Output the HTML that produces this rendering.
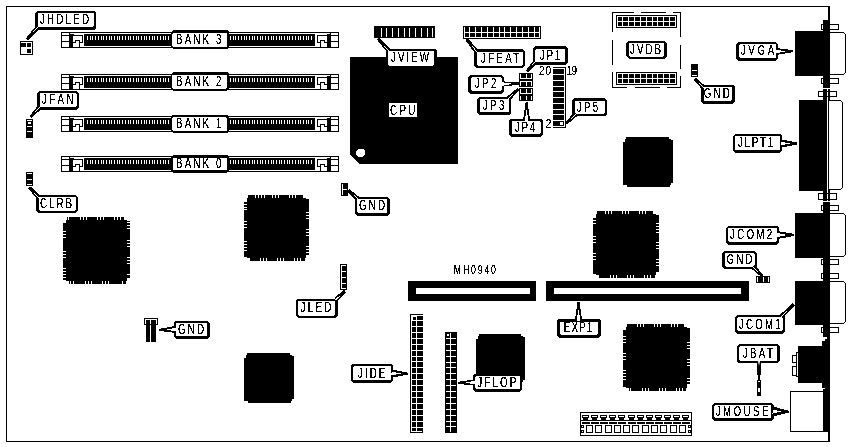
<!DOCTYPE html>
<html><head><meta charset="utf-8"><style>
html,body{margin:0;padding:0;background:#fff;width:849px;height:447px;overflow:hidden}
svg{display:block;will-change:transform}
text{font-family:"Liberation Sans",sans-serif}
</style></head><body>
<svg width="849" height="447" viewBox="0 0 849 447" shape-rendering="crispEdges">
<defs><filter id="crisp" filterUnits="userSpaceOnUse" x="-200" y="-50" width="400" height="100"><feComponentTransfer><feFuncA type="discrete" tableValues="0 0 1 1 1"/></feComponentTransfer></filter></defs>
<rect x="0" y="0" width="849" height="447" fill="#fff"/>
<rect x="6" y="6" width="823" height="1" fill="#000"/>
<rect x="6" y="441" width="823" height="1" fill="#000"/>
<rect x="6" y="6" width="1" height="436" fill="#000"/>
<rect x="828" y="6" width="1" height="436" fill="#000"/>
<rect x="61" y="32" width="278" height="1" fill="#000"/>
<rect x="61" y="47" width="278" height="1" fill="#000"/>
<rect x="61" y="32" width="1" height="16" fill="#000"/>
<rect x="338" y="32" width="1" height="16" fill="#000"/>
<rect x="62" y="35" width="8" height="1" fill="#000"/>
<rect x="62" y="41" width="8" height="1" fill="#000"/>
<rect x="69" y="32" width="1" height="16" fill="#000"/>
<rect x="70" y="34" width="3" height="14" fill="#000"/>
<rect x="73" y="34" width="1" height="2" fill="#000"/>
<rect x="73" y="35" width="10" height="1" fill="#000"/>
<rect x="82" y="35" width="1" height="8" fill="#000"/>
<rect x="79" y="42" width="4" height="1" fill="#000"/>
<rect x="79" y="40" width="1" height="7" fill="#000"/>
<rect x="75" y="40" width="5" height="1" fill="#000"/>
<rect x="75" y="40" width="1" height="3" fill="#000"/>
<rect x="73" y="42" width="3" height="1" fill="#000"/>
<rect x="84" y="34" width="231" height="12" fill="#000"/>
<rect x="87" y="36" width="1" height="4" fill="#fff"/>
<rect x="90" y="36" width="1" height="4" fill="#fff"/>
<rect x="92" y="36" width="1" height="4" fill="#fff"/>
<rect x="95" y="36" width="1" height="4" fill="#fff"/>
<rect x="98" y="36" width="1" height="4" fill="#fff"/>
<rect x="101" y="36" width="1" height="4" fill="#fff"/>
<rect x="103" y="36" width="1" height="4" fill="#fff"/>
<rect x="106" y="36" width="1" height="4" fill="#fff"/>
<rect x="109" y="36" width="1" height="4" fill="#fff"/>
<rect x="111" y="36" width="1" height="4" fill="#fff"/>
<rect x="114" y="36" width="1" height="4" fill="#fff"/>
<rect x="117" y="36" width="1" height="4" fill="#fff"/>
<rect x="119" y="36" width="1" height="4" fill="#fff"/>
<rect x="122" y="36" width="1" height="4" fill="#fff"/>
<rect x="125" y="36" width="1" height="4" fill="#fff"/>
<rect x="128" y="36" width="1" height="4" fill="#fff"/>
<rect x="130" y="36" width="1" height="4" fill="#fff"/>
<rect x="133" y="36" width="1" height="4" fill="#fff"/>
<rect x="136" y="36" width="1" height="4" fill="#fff"/>
<rect x="138" y="36" width="1" height="4" fill="#fff"/>
<rect x="141" y="36" width="1" height="4" fill="#fff"/>
<rect x="144" y="36" width="1" height="4" fill="#fff"/>
<rect x="146" y="36" width="1" height="4" fill="#fff"/>
<rect x="149" y="36" width="1" height="4" fill="#fff"/>
<rect x="152" y="36" width="1" height="4" fill="#fff"/>
<rect x="154" y="36" width="1" height="4" fill="#fff"/>
<rect x="157" y="36" width="1" height="4" fill="#fff"/>
<rect x="160" y="36" width="1" height="4" fill="#fff"/>
<rect x="163" y="36" width="1" height="4" fill="#fff"/>
<rect x="165" y="36" width="1" height="4" fill="#fff"/>
<rect x="168" y="36" width="1" height="4" fill="#fff"/>
<rect x="171" y="36" width="1" height="4" fill="#fff"/>
<rect x="173" y="36" width="1" height="4" fill="#fff"/>
<rect x="176" y="36" width="1" height="4" fill="#fff"/>
<rect x="179" y="36" width="1" height="4" fill="#fff"/>
<rect x="181" y="36" width="1" height="4" fill="#fff"/>
<rect x="184" y="36" width="1" height="4" fill="#fff"/>
<rect x="187" y="36" width="1" height="4" fill="#fff"/>
<rect x="190" y="36" width="1" height="4" fill="#fff"/>
<rect x="192" y="36" width="1" height="4" fill="#fff"/>
<rect x="195" y="36" width="1" height="4" fill="#fff"/>
<rect x="198" y="36" width="1" height="4" fill="#fff"/>
<rect x="200" y="36" width="1" height="4" fill="#fff"/>
<rect x="203" y="36" width="1" height="4" fill="#fff"/>
<rect x="206" y="36" width="1" height="4" fill="#fff"/>
<rect x="208" y="36" width="1" height="4" fill="#fff"/>
<rect x="211" y="36" width="1" height="4" fill="#fff"/>
<rect x="214" y="36" width="1" height="4" fill="#fff"/>
<rect x="217" y="36" width="1" height="4" fill="#fff"/>
<rect x="219" y="36" width="1" height="4" fill="#fff"/>
<rect x="222" y="36" width="1" height="4" fill="#fff"/>
<rect x="225" y="36" width="1" height="4" fill="#fff"/>
<rect x="227" y="36" width="1" height="4" fill="#fff"/>
<rect x="230" y="36" width="1" height="4" fill="#fff"/>
<rect x="233" y="36" width="1" height="4" fill="#fff"/>
<rect x="235" y="36" width="1" height="4" fill="#fff"/>
<rect x="238" y="36" width="1" height="4" fill="#fff"/>
<rect x="241" y="36" width="1" height="4" fill="#fff"/>
<rect x="244" y="36" width="1" height="4" fill="#fff"/>
<rect x="246" y="36" width="1" height="4" fill="#fff"/>
<rect x="249" y="36" width="1" height="4" fill="#fff"/>
<rect x="252" y="36" width="1" height="4" fill="#fff"/>
<rect x="254" y="36" width="1" height="4" fill="#fff"/>
<rect x="257" y="36" width="1" height="4" fill="#fff"/>
<rect x="260" y="36" width="1" height="4" fill="#fff"/>
<rect x="262" y="36" width="1" height="4" fill="#fff"/>
<rect x="265" y="36" width="1" height="4" fill="#fff"/>
<rect x="268" y="36" width="1" height="4" fill="#fff"/>
<rect x="271" y="36" width="1" height="4" fill="#fff"/>
<rect x="273" y="36" width="1" height="4" fill="#fff"/>
<rect x="276" y="36" width="1" height="4" fill="#fff"/>
<rect x="279" y="36" width="1" height="4" fill="#fff"/>
<rect x="281" y="36" width="1" height="4" fill="#fff"/>
<rect x="284" y="36" width="1" height="4" fill="#fff"/>
<rect x="287" y="36" width="1" height="4" fill="#fff"/>
<rect x="289" y="36" width="1" height="4" fill="#fff"/>
<rect x="292" y="36" width="1" height="4" fill="#fff"/>
<rect x="295" y="36" width="1" height="4" fill="#fff"/>
<rect x="298" y="36" width="1" height="4" fill="#fff"/>
<rect x="300" y="36" width="1" height="4" fill="#fff"/>
<rect x="303" y="36" width="1" height="4" fill="#fff"/>
<rect x="306" y="36" width="1" height="4" fill="#fff"/>
<rect x="308" y="36" width="1" height="4" fill="#fff"/>
<rect x="311" y="36" width="1" height="4" fill="#fff"/>
<rect x="330" y="35" width="8" height="1" fill="#000"/>
<rect x="330" y="41" width="8" height="1" fill="#000"/>
<rect x="330" y="32" width="1" height="16" fill="#000"/>
<rect x="327" y="34" width="3" height="14" fill="#000"/>
<rect x="317" y="35" width="10" height="1" fill="#000"/>
<rect x="317" y="35" width="1" height="8" fill="#000"/>
<rect x="317" y="42" width="4" height="1" fill="#000"/>
<rect x="320" y="40" width="1" height="7" fill="#000"/>
<rect x="320" y="40" width="5" height="1" fill="#000"/>
<rect x="324" y="40" width="1" height="3" fill="#000"/>
<rect x="324" y="42" width="3" height="1" fill="#000"/>
<polygon points="173.00,30.00 227.00,30.00 229.00,32.00 229.00,47.00 227.00,49.00 173.00,49.00 171.00,47.00 171.00,32.00" fill="#000" shape-rendering="crispEdges"/>
<polygon points="173.20,32.90 225.90,32.90 226.90,33.90 226.90,46.20 225.90,47.20 173.20,47.20 172.20,46.20 172.20,33.90" fill="#fff" shape-rendering="crispEdges"/>
<text transform="translate(199.81,44) scale(0.7,1)" x="0" y="0" font-size="14" text-anchor="middle" letter-spacing="3.040" fill="#000" filter="url(#crisp)" >BANK 3</text>
<rect x="61" y="74" width="278" height="1" fill="#000"/>
<rect x="61" y="89" width="278" height="1" fill="#000"/>
<rect x="61" y="74" width="1" height="16" fill="#000"/>
<rect x="338" y="74" width="1" height="16" fill="#000"/>
<rect x="62" y="77" width="8" height="1" fill="#000"/>
<rect x="62" y="83" width="8" height="1" fill="#000"/>
<rect x="69" y="74" width="1" height="16" fill="#000"/>
<rect x="70" y="76" width="3" height="14" fill="#000"/>
<rect x="73" y="76" width="1" height="2" fill="#000"/>
<rect x="73" y="77" width="10" height="1" fill="#000"/>
<rect x="82" y="77" width="1" height="8" fill="#000"/>
<rect x="79" y="84" width="4" height="1" fill="#000"/>
<rect x="79" y="82" width="1" height="7" fill="#000"/>
<rect x="75" y="82" width="5" height="1" fill="#000"/>
<rect x="75" y="82" width="1" height="3" fill="#000"/>
<rect x="73" y="84" width="3" height="1" fill="#000"/>
<rect x="84" y="76" width="231" height="12" fill="#000"/>
<rect x="87" y="78" width="1" height="4" fill="#fff"/>
<rect x="90" y="78" width="1" height="4" fill="#fff"/>
<rect x="92" y="78" width="1" height="4" fill="#fff"/>
<rect x="95" y="78" width="1" height="4" fill="#fff"/>
<rect x="98" y="78" width="1" height="4" fill="#fff"/>
<rect x="101" y="78" width="1" height="4" fill="#fff"/>
<rect x="103" y="78" width="1" height="4" fill="#fff"/>
<rect x="106" y="78" width="1" height="4" fill="#fff"/>
<rect x="109" y="78" width="1" height="4" fill="#fff"/>
<rect x="111" y="78" width="1" height="4" fill="#fff"/>
<rect x="114" y="78" width="1" height="4" fill="#fff"/>
<rect x="117" y="78" width="1" height="4" fill="#fff"/>
<rect x="119" y="78" width="1" height="4" fill="#fff"/>
<rect x="122" y="78" width="1" height="4" fill="#fff"/>
<rect x="125" y="78" width="1" height="4" fill="#fff"/>
<rect x="128" y="78" width="1" height="4" fill="#fff"/>
<rect x="130" y="78" width="1" height="4" fill="#fff"/>
<rect x="133" y="78" width="1" height="4" fill="#fff"/>
<rect x="136" y="78" width="1" height="4" fill="#fff"/>
<rect x="138" y="78" width="1" height="4" fill="#fff"/>
<rect x="141" y="78" width="1" height="4" fill="#fff"/>
<rect x="144" y="78" width="1" height="4" fill="#fff"/>
<rect x="146" y="78" width="1" height="4" fill="#fff"/>
<rect x="149" y="78" width="1" height="4" fill="#fff"/>
<rect x="152" y="78" width="1" height="4" fill="#fff"/>
<rect x="154" y="78" width="1" height="4" fill="#fff"/>
<rect x="157" y="78" width="1" height="4" fill="#fff"/>
<rect x="160" y="78" width="1" height="4" fill="#fff"/>
<rect x="163" y="78" width="1" height="4" fill="#fff"/>
<rect x="165" y="78" width="1" height="4" fill="#fff"/>
<rect x="168" y="78" width="1" height="4" fill="#fff"/>
<rect x="171" y="78" width="1" height="4" fill="#fff"/>
<rect x="173" y="78" width="1" height="4" fill="#fff"/>
<rect x="176" y="78" width="1" height="4" fill="#fff"/>
<rect x="179" y="78" width="1" height="4" fill="#fff"/>
<rect x="181" y="78" width="1" height="4" fill="#fff"/>
<rect x="184" y="78" width="1" height="4" fill="#fff"/>
<rect x="187" y="78" width="1" height="4" fill="#fff"/>
<rect x="190" y="78" width="1" height="4" fill="#fff"/>
<rect x="192" y="78" width="1" height="4" fill="#fff"/>
<rect x="195" y="78" width="1" height="4" fill="#fff"/>
<rect x="198" y="78" width="1" height="4" fill="#fff"/>
<rect x="200" y="78" width="1" height="4" fill="#fff"/>
<rect x="203" y="78" width="1" height="4" fill="#fff"/>
<rect x="206" y="78" width="1" height="4" fill="#fff"/>
<rect x="208" y="78" width="1" height="4" fill="#fff"/>
<rect x="211" y="78" width="1" height="4" fill="#fff"/>
<rect x="214" y="78" width="1" height="4" fill="#fff"/>
<rect x="217" y="78" width="1" height="4" fill="#fff"/>
<rect x="219" y="78" width="1" height="4" fill="#fff"/>
<rect x="222" y="78" width="1" height="4" fill="#fff"/>
<rect x="225" y="78" width="1" height="4" fill="#fff"/>
<rect x="227" y="78" width="1" height="4" fill="#fff"/>
<rect x="230" y="78" width="1" height="4" fill="#fff"/>
<rect x="233" y="78" width="1" height="4" fill="#fff"/>
<rect x="235" y="78" width="1" height="4" fill="#fff"/>
<rect x="238" y="78" width="1" height="4" fill="#fff"/>
<rect x="241" y="78" width="1" height="4" fill="#fff"/>
<rect x="244" y="78" width="1" height="4" fill="#fff"/>
<rect x="246" y="78" width="1" height="4" fill="#fff"/>
<rect x="249" y="78" width="1" height="4" fill="#fff"/>
<rect x="252" y="78" width="1" height="4" fill="#fff"/>
<rect x="254" y="78" width="1" height="4" fill="#fff"/>
<rect x="257" y="78" width="1" height="4" fill="#fff"/>
<rect x="260" y="78" width="1" height="4" fill="#fff"/>
<rect x="262" y="78" width="1" height="4" fill="#fff"/>
<rect x="265" y="78" width="1" height="4" fill="#fff"/>
<rect x="268" y="78" width="1" height="4" fill="#fff"/>
<rect x="271" y="78" width="1" height="4" fill="#fff"/>
<rect x="273" y="78" width="1" height="4" fill="#fff"/>
<rect x="276" y="78" width="1" height="4" fill="#fff"/>
<rect x="279" y="78" width="1" height="4" fill="#fff"/>
<rect x="281" y="78" width="1" height="4" fill="#fff"/>
<rect x="284" y="78" width="1" height="4" fill="#fff"/>
<rect x="287" y="78" width="1" height="4" fill="#fff"/>
<rect x="289" y="78" width="1" height="4" fill="#fff"/>
<rect x="292" y="78" width="1" height="4" fill="#fff"/>
<rect x="295" y="78" width="1" height="4" fill="#fff"/>
<rect x="298" y="78" width="1" height="4" fill="#fff"/>
<rect x="300" y="78" width="1" height="4" fill="#fff"/>
<rect x="303" y="78" width="1" height="4" fill="#fff"/>
<rect x="306" y="78" width="1" height="4" fill="#fff"/>
<rect x="308" y="78" width="1" height="4" fill="#fff"/>
<rect x="311" y="78" width="1" height="4" fill="#fff"/>
<rect x="330" y="77" width="8" height="1" fill="#000"/>
<rect x="330" y="83" width="8" height="1" fill="#000"/>
<rect x="330" y="74" width="1" height="16" fill="#000"/>
<rect x="327" y="76" width="3" height="14" fill="#000"/>
<rect x="317" y="77" width="10" height="1" fill="#000"/>
<rect x="317" y="77" width="1" height="8" fill="#000"/>
<rect x="317" y="84" width="4" height="1" fill="#000"/>
<rect x="320" y="82" width="1" height="7" fill="#000"/>
<rect x="320" y="82" width="5" height="1" fill="#000"/>
<rect x="324" y="82" width="1" height="3" fill="#000"/>
<rect x="324" y="84" width="3" height="1" fill="#000"/>
<polygon points="173.00,72.00 227.00,72.00 229.00,74.00 229.00,88.50 227.00,90.50 173.00,90.50 171.00,88.50 171.00,74.00" fill="#000" shape-rendering="crispEdges"/>
<polygon points="173.20,74.80 225.90,74.80 226.90,75.80 226.90,87.70 225.90,88.70 173.20,88.70 172.20,87.70 172.20,75.80" fill="#fff" shape-rendering="crispEdges"/>
<text transform="translate(199.81,86) scale(0.7,1)" x="0" y="0" font-size="14" text-anchor="middle" letter-spacing="3.040" fill="#000" filter="url(#crisp)" >BANK 2</text>
<rect x="61" y="116" width="278" height="1" fill="#000"/>
<rect x="61" y="131" width="278" height="1" fill="#000"/>
<rect x="61" y="116" width="1" height="16" fill="#000"/>
<rect x="338" y="116" width="1" height="16" fill="#000"/>
<rect x="62" y="119" width="8" height="1" fill="#000"/>
<rect x="62" y="125" width="8" height="1" fill="#000"/>
<rect x="69" y="116" width="1" height="16" fill="#000"/>
<rect x="70" y="118" width="3" height="14" fill="#000"/>
<rect x="73" y="118" width="1" height="2" fill="#000"/>
<rect x="73" y="119" width="10" height="1" fill="#000"/>
<rect x="82" y="119" width="1" height="8" fill="#000"/>
<rect x="79" y="126" width="4" height="1" fill="#000"/>
<rect x="79" y="124" width="1" height="7" fill="#000"/>
<rect x="75" y="124" width="5" height="1" fill="#000"/>
<rect x="75" y="124" width="1" height="3" fill="#000"/>
<rect x="73" y="126" width="3" height="1" fill="#000"/>
<rect x="84" y="118" width="231" height="12" fill="#000"/>
<rect x="87" y="120" width="1" height="4" fill="#fff"/>
<rect x="90" y="120" width="1" height="4" fill="#fff"/>
<rect x="92" y="120" width="1" height="4" fill="#fff"/>
<rect x="95" y="120" width="1" height="4" fill="#fff"/>
<rect x="98" y="120" width="1" height="4" fill="#fff"/>
<rect x="101" y="120" width="1" height="4" fill="#fff"/>
<rect x="103" y="120" width="1" height="4" fill="#fff"/>
<rect x="106" y="120" width="1" height="4" fill="#fff"/>
<rect x="109" y="120" width="1" height="4" fill="#fff"/>
<rect x="111" y="120" width="1" height="4" fill="#fff"/>
<rect x="114" y="120" width="1" height="4" fill="#fff"/>
<rect x="117" y="120" width="1" height="4" fill="#fff"/>
<rect x="119" y="120" width="1" height="4" fill="#fff"/>
<rect x="122" y="120" width="1" height="4" fill="#fff"/>
<rect x="125" y="120" width="1" height="4" fill="#fff"/>
<rect x="128" y="120" width="1" height="4" fill="#fff"/>
<rect x="130" y="120" width="1" height="4" fill="#fff"/>
<rect x="133" y="120" width="1" height="4" fill="#fff"/>
<rect x="136" y="120" width="1" height="4" fill="#fff"/>
<rect x="138" y="120" width="1" height="4" fill="#fff"/>
<rect x="141" y="120" width="1" height="4" fill="#fff"/>
<rect x="144" y="120" width="1" height="4" fill="#fff"/>
<rect x="146" y="120" width="1" height="4" fill="#fff"/>
<rect x="149" y="120" width="1" height="4" fill="#fff"/>
<rect x="152" y="120" width="1" height="4" fill="#fff"/>
<rect x="154" y="120" width="1" height="4" fill="#fff"/>
<rect x="157" y="120" width="1" height="4" fill="#fff"/>
<rect x="160" y="120" width="1" height="4" fill="#fff"/>
<rect x="163" y="120" width="1" height="4" fill="#fff"/>
<rect x="165" y="120" width="1" height="4" fill="#fff"/>
<rect x="168" y="120" width="1" height="4" fill="#fff"/>
<rect x="171" y="120" width="1" height="4" fill="#fff"/>
<rect x="173" y="120" width="1" height="4" fill="#fff"/>
<rect x="176" y="120" width="1" height="4" fill="#fff"/>
<rect x="179" y="120" width="1" height="4" fill="#fff"/>
<rect x="181" y="120" width="1" height="4" fill="#fff"/>
<rect x="184" y="120" width="1" height="4" fill="#fff"/>
<rect x="187" y="120" width="1" height="4" fill="#fff"/>
<rect x="190" y="120" width="1" height="4" fill="#fff"/>
<rect x="192" y="120" width="1" height="4" fill="#fff"/>
<rect x="195" y="120" width="1" height="4" fill="#fff"/>
<rect x="198" y="120" width="1" height="4" fill="#fff"/>
<rect x="200" y="120" width="1" height="4" fill="#fff"/>
<rect x="203" y="120" width="1" height="4" fill="#fff"/>
<rect x="206" y="120" width="1" height="4" fill="#fff"/>
<rect x="208" y="120" width="1" height="4" fill="#fff"/>
<rect x="211" y="120" width="1" height="4" fill="#fff"/>
<rect x="214" y="120" width="1" height="4" fill="#fff"/>
<rect x="217" y="120" width="1" height="4" fill="#fff"/>
<rect x="219" y="120" width="1" height="4" fill="#fff"/>
<rect x="222" y="120" width="1" height="4" fill="#fff"/>
<rect x="225" y="120" width="1" height="4" fill="#fff"/>
<rect x="227" y="120" width="1" height="4" fill="#fff"/>
<rect x="230" y="120" width="1" height="4" fill="#fff"/>
<rect x="233" y="120" width="1" height="4" fill="#fff"/>
<rect x="235" y="120" width="1" height="4" fill="#fff"/>
<rect x="238" y="120" width="1" height="4" fill="#fff"/>
<rect x="241" y="120" width="1" height="4" fill="#fff"/>
<rect x="244" y="120" width="1" height="4" fill="#fff"/>
<rect x="246" y="120" width="1" height="4" fill="#fff"/>
<rect x="249" y="120" width="1" height="4" fill="#fff"/>
<rect x="252" y="120" width="1" height="4" fill="#fff"/>
<rect x="254" y="120" width="1" height="4" fill="#fff"/>
<rect x="257" y="120" width="1" height="4" fill="#fff"/>
<rect x="260" y="120" width="1" height="4" fill="#fff"/>
<rect x="262" y="120" width="1" height="4" fill="#fff"/>
<rect x="265" y="120" width="1" height="4" fill="#fff"/>
<rect x="268" y="120" width="1" height="4" fill="#fff"/>
<rect x="271" y="120" width="1" height="4" fill="#fff"/>
<rect x="273" y="120" width="1" height="4" fill="#fff"/>
<rect x="276" y="120" width="1" height="4" fill="#fff"/>
<rect x="279" y="120" width="1" height="4" fill="#fff"/>
<rect x="281" y="120" width="1" height="4" fill="#fff"/>
<rect x="284" y="120" width="1" height="4" fill="#fff"/>
<rect x="287" y="120" width="1" height="4" fill="#fff"/>
<rect x="289" y="120" width="1" height="4" fill="#fff"/>
<rect x="292" y="120" width="1" height="4" fill="#fff"/>
<rect x="295" y="120" width="1" height="4" fill="#fff"/>
<rect x="298" y="120" width="1" height="4" fill="#fff"/>
<rect x="300" y="120" width="1" height="4" fill="#fff"/>
<rect x="303" y="120" width="1" height="4" fill="#fff"/>
<rect x="306" y="120" width="1" height="4" fill="#fff"/>
<rect x="308" y="120" width="1" height="4" fill="#fff"/>
<rect x="311" y="120" width="1" height="4" fill="#fff"/>
<rect x="330" y="119" width="8" height="1" fill="#000"/>
<rect x="330" y="125" width="8" height="1" fill="#000"/>
<rect x="330" y="116" width="1" height="16" fill="#000"/>
<rect x="327" y="118" width="3" height="14" fill="#000"/>
<rect x="317" y="119" width="10" height="1" fill="#000"/>
<rect x="317" y="119" width="1" height="8" fill="#000"/>
<rect x="317" y="126" width="4" height="1" fill="#000"/>
<rect x="320" y="124" width="1" height="7" fill="#000"/>
<rect x="320" y="124" width="5" height="1" fill="#000"/>
<rect x="324" y="124" width="1" height="3" fill="#000"/>
<rect x="324" y="126" width="3" height="1" fill="#000"/>
<polygon points="173.00,114.50 227.00,114.50 229.00,116.50 229.00,131.00 227.00,133.00 173.00,133.00 171.00,131.00 171.00,116.50" fill="#000" shape-rendering="crispEdges"/>
<polygon points="173.20,117.30 225.90,117.30 226.90,118.30 226.90,130.20 225.90,131.20 173.20,131.20 172.20,130.20 172.20,118.30" fill="#fff" shape-rendering="crispEdges"/>
<text transform="translate(199.81,128) scale(0.7,1)" x="0" y="0" font-size="14" text-anchor="middle" letter-spacing="3.040" fill="#000" filter="url(#crisp)" >BANK 1</text>
<rect x="61" y="156" width="278" height="1" fill="#000"/>
<rect x="61" y="171" width="278" height="1" fill="#000"/>
<rect x="61" y="156" width="1" height="16" fill="#000"/>
<rect x="338" y="156" width="1" height="16" fill="#000"/>
<rect x="62" y="159" width="8" height="1" fill="#000"/>
<rect x="62" y="165" width="8" height="1" fill="#000"/>
<rect x="69" y="156" width="1" height="16" fill="#000"/>
<rect x="70" y="158" width="3" height="14" fill="#000"/>
<rect x="73" y="158" width="1" height="2" fill="#000"/>
<rect x="73" y="159" width="10" height="1" fill="#000"/>
<rect x="82" y="159" width="1" height="8" fill="#000"/>
<rect x="79" y="166" width="4" height="1" fill="#000"/>
<rect x="79" y="164" width="1" height="7" fill="#000"/>
<rect x="75" y="164" width="5" height="1" fill="#000"/>
<rect x="75" y="164" width="1" height="3" fill="#000"/>
<rect x="73" y="166" width="3" height="1" fill="#000"/>
<rect x="84" y="158" width="231" height="12" fill="#000"/>
<rect x="87" y="160" width="1" height="4" fill="#fff"/>
<rect x="90" y="160" width="1" height="4" fill="#fff"/>
<rect x="92" y="160" width="1" height="4" fill="#fff"/>
<rect x="95" y="160" width="1" height="4" fill="#fff"/>
<rect x="98" y="160" width="1" height="4" fill="#fff"/>
<rect x="101" y="160" width="1" height="4" fill="#fff"/>
<rect x="103" y="160" width="1" height="4" fill="#fff"/>
<rect x="106" y="160" width="1" height="4" fill="#fff"/>
<rect x="109" y="160" width="1" height="4" fill="#fff"/>
<rect x="111" y="160" width="1" height="4" fill="#fff"/>
<rect x="114" y="160" width="1" height="4" fill="#fff"/>
<rect x="117" y="160" width="1" height="4" fill="#fff"/>
<rect x="119" y="160" width="1" height="4" fill="#fff"/>
<rect x="122" y="160" width="1" height="4" fill="#fff"/>
<rect x="125" y="160" width="1" height="4" fill="#fff"/>
<rect x="128" y="160" width="1" height="4" fill="#fff"/>
<rect x="130" y="160" width="1" height="4" fill="#fff"/>
<rect x="133" y="160" width="1" height="4" fill="#fff"/>
<rect x="136" y="160" width="1" height="4" fill="#fff"/>
<rect x="138" y="160" width="1" height="4" fill="#fff"/>
<rect x="141" y="160" width="1" height="4" fill="#fff"/>
<rect x="144" y="160" width="1" height="4" fill="#fff"/>
<rect x="146" y="160" width="1" height="4" fill="#fff"/>
<rect x="149" y="160" width="1" height="4" fill="#fff"/>
<rect x="152" y="160" width="1" height="4" fill="#fff"/>
<rect x="154" y="160" width="1" height="4" fill="#fff"/>
<rect x="157" y="160" width="1" height="4" fill="#fff"/>
<rect x="160" y="160" width="1" height="4" fill="#fff"/>
<rect x="163" y="160" width="1" height="4" fill="#fff"/>
<rect x="165" y="160" width="1" height="4" fill="#fff"/>
<rect x="168" y="160" width="1" height="4" fill="#fff"/>
<rect x="171" y="160" width="1" height="4" fill="#fff"/>
<rect x="173" y="160" width="1" height="4" fill="#fff"/>
<rect x="176" y="160" width="1" height="4" fill="#fff"/>
<rect x="179" y="160" width="1" height="4" fill="#fff"/>
<rect x="181" y="160" width="1" height="4" fill="#fff"/>
<rect x="184" y="160" width="1" height="4" fill="#fff"/>
<rect x="187" y="160" width="1" height="4" fill="#fff"/>
<rect x="190" y="160" width="1" height="4" fill="#fff"/>
<rect x="192" y="160" width="1" height="4" fill="#fff"/>
<rect x="195" y="160" width="1" height="4" fill="#fff"/>
<rect x="198" y="160" width="1" height="4" fill="#fff"/>
<rect x="200" y="160" width="1" height="4" fill="#fff"/>
<rect x="203" y="160" width="1" height="4" fill="#fff"/>
<rect x="206" y="160" width="1" height="4" fill="#fff"/>
<rect x="208" y="160" width="1" height="4" fill="#fff"/>
<rect x="211" y="160" width="1" height="4" fill="#fff"/>
<rect x="214" y="160" width="1" height="4" fill="#fff"/>
<rect x="217" y="160" width="1" height="4" fill="#fff"/>
<rect x="219" y="160" width="1" height="4" fill="#fff"/>
<rect x="222" y="160" width="1" height="4" fill="#fff"/>
<rect x="225" y="160" width="1" height="4" fill="#fff"/>
<rect x="227" y="160" width="1" height="4" fill="#fff"/>
<rect x="230" y="160" width="1" height="4" fill="#fff"/>
<rect x="233" y="160" width="1" height="4" fill="#fff"/>
<rect x="235" y="160" width="1" height="4" fill="#fff"/>
<rect x="238" y="160" width="1" height="4" fill="#fff"/>
<rect x="241" y="160" width="1" height="4" fill="#fff"/>
<rect x="244" y="160" width="1" height="4" fill="#fff"/>
<rect x="246" y="160" width="1" height="4" fill="#fff"/>
<rect x="249" y="160" width="1" height="4" fill="#fff"/>
<rect x="252" y="160" width="1" height="4" fill="#fff"/>
<rect x="254" y="160" width="1" height="4" fill="#fff"/>
<rect x="257" y="160" width="1" height="4" fill="#fff"/>
<rect x="260" y="160" width="1" height="4" fill="#fff"/>
<rect x="262" y="160" width="1" height="4" fill="#fff"/>
<rect x="265" y="160" width="1" height="4" fill="#fff"/>
<rect x="268" y="160" width="1" height="4" fill="#fff"/>
<rect x="271" y="160" width="1" height="4" fill="#fff"/>
<rect x="273" y="160" width="1" height="4" fill="#fff"/>
<rect x="276" y="160" width="1" height="4" fill="#fff"/>
<rect x="279" y="160" width="1" height="4" fill="#fff"/>
<rect x="281" y="160" width="1" height="4" fill="#fff"/>
<rect x="284" y="160" width="1" height="4" fill="#fff"/>
<rect x="287" y="160" width="1" height="4" fill="#fff"/>
<rect x="289" y="160" width="1" height="4" fill="#fff"/>
<rect x="292" y="160" width="1" height="4" fill="#fff"/>
<rect x="295" y="160" width="1" height="4" fill="#fff"/>
<rect x="298" y="160" width="1" height="4" fill="#fff"/>
<rect x="300" y="160" width="1" height="4" fill="#fff"/>
<rect x="303" y="160" width="1" height="4" fill="#fff"/>
<rect x="306" y="160" width="1" height="4" fill="#fff"/>
<rect x="308" y="160" width="1" height="4" fill="#fff"/>
<rect x="311" y="160" width="1" height="4" fill="#fff"/>
<rect x="330" y="159" width="8" height="1" fill="#000"/>
<rect x="330" y="165" width="8" height="1" fill="#000"/>
<rect x="330" y="156" width="1" height="16" fill="#000"/>
<rect x="327" y="158" width="3" height="14" fill="#000"/>
<rect x="317" y="159" width="10" height="1" fill="#000"/>
<rect x="317" y="159" width="1" height="8" fill="#000"/>
<rect x="317" y="166" width="4" height="1" fill="#000"/>
<rect x="320" y="164" width="1" height="7" fill="#000"/>
<rect x="320" y="164" width="5" height="1" fill="#000"/>
<rect x="324" y="164" width="1" height="3" fill="#000"/>
<rect x="324" y="166" width="3" height="1" fill="#000"/>
<polygon points="173.00,155.00 227.00,155.00 229.00,157.00 229.00,170.50 227.00,172.50 173.00,172.50 171.00,170.50 171.00,157.00" fill="#000" shape-rendering="crispEdges"/>
<polygon points="173.50,157.60 226.00,157.60 227.00,158.60 227.00,169.30 226.00,170.30 173.50,170.30 172.50,169.30 172.50,158.60" fill="#fff" shape-rendering="crispEdges"/>
<text transform="translate(199.81,168) scale(0.7,1)" x="0" y="0" font-size="14" text-anchor="middle" letter-spacing="3.040" fill="#000" filter="url(#crisp)" >BANK 0</text>
<rect x="66" y="220" width="61" height="61" fill="#000"/>
<rect x="67" y="217" width="57" height="3" fill="#000"/>
<rect x="69" y="281" width="57" height="3" fill="#000"/>
<rect x="63" y="223" width="3" height="57" fill="#000"/>
<rect x="127" y="221" width="3" height="57" fill="#000"/>
<rect x="68" y="217" width="1" height="3" fill="#fff"/>
<rect x="80" y="217" width="1" height="3" fill="#fff"/>
<rect x="83" y="217" width="1" height="3" fill="#fff"/>
<rect x="86" y="217" width="1" height="3" fill="#fff"/>
<rect x="97" y="217" width="1" height="3" fill="#fff"/>
<rect x="100" y="217" width="1" height="3" fill="#fff"/>
<rect x="103" y="217" width="1" height="3" fill="#fff"/>
<rect x="114" y="217" width="1" height="3" fill="#fff"/>
<rect x="117" y="217" width="1" height="3" fill="#fff"/>
<rect x="120" y="217" width="1" height="3" fill="#fff"/>
<rect x="70" y="281" width="1" height="3" fill="#fff"/>
<rect x="73" y="281" width="1" height="3" fill="#fff"/>
<rect x="85" y="281" width="1" height="3" fill="#fff"/>
<rect x="88" y="281" width="1" height="3" fill="#fff"/>
<rect x="91" y="281" width="1" height="3" fill="#fff"/>
<rect x="102" y="281" width="1" height="3" fill="#fff"/>
<rect x="105" y="281" width="1" height="3" fill="#fff"/>
<rect x="108" y="281" width="1" height="3" fill="#fff"/>
<rect x="122" y="281" width="1" height="3" fill="#fff"/>
<rect x="63" y="231" width="3" height="1" fill="#fff"/>
<rect x="63" y="234" width="3" height="1" fill="#fff"/>
<rect x="63" y="237" width="3" height="1" fill="#fff"/>
<rect x="63" y="251" width="3" height="1" fill="#fff"/>
<rect x="63" y="254" width="3" height="1" fill="#fff"/>
<rect x="63" y="257" width="3" height="1" fill="#fff"/>
<rect x="63" y="268" width="3" height="1" fill="#fff"/>
<rect x="63" y="271" width="3" height="1" fill="#fff"/>
<rect x="63" y="274" width="3" height="1" fill="#fff"/>
<rect x="63" y="277" width="3" height="1" fill="#fff"/>
<rect x="127" y="222" width="3" height="1" fill="#fff"/>
<rect x="127" y="225" width="3" height="1" fill="#fff"/>
<rect x="127" y="228" width="3" height="1" fill="#fff"/>
<rect x="127" y="240" width="3" height="1" fill="#fff"/>
<rect x="127" y="243" width="3" height="1" fill="#fff"/>
<rect x="127" y="246" width="3" height="1" fill="#fff"/>
<rect x="127" y="257" width="3" height="1" fill="#fff"/>
<rect x="127" y="260" width="3" height="1" fill="#fff"/>
<rect x="127" y="263" width="3" height="1" fill="#fff"/>
<rect x="127" y="274" width="3" height="1" fill="#fff"/>
<rect x="247" y="198" width="59" height="60" fill="#000"/>
<rect x="248" y="195" width="55" height="3" fill="#000"/>
<rect x="250" y="258" width="55" height="3" fill="#000"/>
<rect x="244" y="201" width="3" height="56" fill="#000"/>
<rect x="306" y="199" width="3" height="56" fill="#000"/>
<rect x="255" y="195" width="1" height="3" fill="#fff"/>
<rect x="258" y="195" width="1" height="3" fill="#fff"/>
<rect x="261" y="195" width="1" height="3" fill="#fff"/>
<rect x="264" y="195" width="1" height="3" fill="#fff"/>
<rect x="272" y="195" width="1" height="3" fill="#fff"/>
<rect x="275" y="195" width="1" height="3" fill="#fff"/>
<rect x="278" y="195" width="1" height="3" fill="#fff"/>
<rect x="289" y="195" width="1" height="3" fill="#fff"/>
<rect x="292" y="195" width="1" height="3" fill="#fff"/>
<rect x="295" y="195" width="1" height="3" fill="#fff"/>
<rect x="260" y="258" width="1" height="3" fill="#fff"/>
<rect x="263" y="258" width="1" height="3" fill="#fff"/>
<rect x="266" y="258" width="1" height="3" fill="#fff"/>
<rect x="277" y="258" width="1" height="3" fill="#fff"/>
<rect x="280" y="258" width="1" height="3" fill="#fff"/>
<rect x="283" y="258" width="1" height="3" fill="#fff"/>
<rect x="294" y="258" width="1" height="3" fill="#fff"/>
<rect x="297" y="258" width="1" height="3" fill="#fff"/>
<rect x="300" y="258" width="1" height="3" fill="#fff"/>
<rect x="244" y="201" width="3" height="1" fill="#fff"/>
<rect x="244" y="204" width="3" height="1" fill="#fff"/>
<rect x="244" y="207" width="3" height="1" fill="#fff"/>
<rect x="244" y="209" width="3" height="1" fill="#fff"/>
<rect x="244" y="221" width="3" height="1" fill="#fff"/>
<rect x="244" y="224" width="3" height="1" fill="#fff"/>
<rect x="244" y="227" width="3" height="1" fill="#fff"/>
<rect x="244" y="241" width="3" height="1" fill="#fff"/>
<rect x="244" y="244" width="3" height="1" fill="#fff"/>
<rect x="244" y="247" width="3" height="1" fill="#fff"/>
<rect x="244" y="250" width="3" height="1" fill="#fff"/>
<rect x="306" y="212" width="3" height="1" fill="#fff"/>
<rect x="306" y="215" width="3" height="1" fill="#fff"/>
<rect x="306" y="218" width="3" height="1" fill="#fff"/>
<rect x="306" y="229" width="3" height="1" fill="#fff"/>
<rect x="306" y="232" width="3" height="1" fill="#fff"/>
<rect x="306" y="235" width="3" height="1" fill="#fff"/>
<rect x="306" y="246" width="3" height="1" fill="#fff"/>
<rect x="306" y="249" width="3" height="1" fill="#fff"/>
<rect x="306" y="252" width="3" height="1" fill="#fff"/>
<rect x="247" y="353" width="43" height="2" fill="#000"/>
<rect x="246" y="355" width="46" height="1" fill="#000"/>
<rect x="246" y="356" width="48" height="2" fill="#000"/>
<rect x="244" y="358" width="50" height="41" fill="#000"/>
<rect x="244" y="399" width="48" height="2" fill="#000"/>
<rect x="248" y="401" width="43" height="2" fill="#000"/>
<rect x="626" y="137" width="43" height="2" fill="#000"/>
<rect x="625" y="139" width="46" height="1" fill="#000"/>
<rect x="625" y="140" width="48" height="2" fill="#000"/>
<rect x="623" y="142" width="50" height="41" fill="#000"/>
<rect x="623" y="183" width="48" height="2" fill="#000"/>
<rect x="627" y="185" width="43" height="2" fill="#000"/>
<rect x="596" y="214" width="60" height="61" fill="#000"/>
<rect x="597" y="211" width="56" height="3" fill="#000"/>
<rect x="599" y="275" width="56" height="3" fill="#000"/>
<rect x="593" y="217" width="3" height="57" fill="#000"/>
<rect x="656" y="215" width="3" height="57" fill="#000"/>
<rect x="605" y="211" width="1" height="3" fill="#fff"/>
<rect x="608" y="211" width="1" height="3" fill="#fff"/>
<rect x="611" y="211" width="1" height="3" fill="#fff"/>
<rect x="622" y="211" width="1" height="3" fill="#fff"/>
<rect x="625" y="211" width="1" height="3" fill="#fff"/>
<rect x="628" y="211" width="1" height="3" fill="#fff"/>
<rect x="639" y="211" width="1" height="3" fill="#fff"/>
<rect x="642" y="211" width="1" height="3" fill="#fff"/>
<rect x="645" y="211" width="1" height="3" fill="#fff"/>
<rect x="610" y="275" width="1" height="3" fill="#fff"/>
<rect x="613" y="275" width="1" height="3" fill="#fff"/>
<rect x="616" y="275" width="1" height="3" fill="#fff"/>
<rect x="627" y="275" width="1" height="3" fill="#fff"/>
<rect x="630" y="275" width="1" height="3" fill="#fff"/>
<rect x="633" y="275" width="1" height="3" fill="#fff"/>
<rect x="644" y="275" width="1" height="3" fill="#fff"/>
<rect x="647" y="275" width="1" height="3" fill="#fff"/>
<rect x="650" y="275" width="1" height="3" fill="#fff"/>
<rect x="593" y="217" width="3" height="1" fill="#fff"/>
<rect x="593" y="220" width="3" height="1" fill="#fff"/>
<rect x="593" y="223" width="3" height="1" fill="#fff"/>
<rect x="593" y="236" width="3" height="1" fill="#fff"/>
<rect x="593" y="239" width="3" height="1" fill="#fff"/>
<rect x="593" y="242" width="3" height="1" fill="#fff"/>
<rect x="593" y="253" width="3" height="1" fill="#fff"/>
<rect x="593" y="256" width="3" height="1" fill="#fff"/>
<rect x="593" y="259" width="3" height="1" fill="#fff"/>
<rect x="656" y="223" width="3" height="1" fill="#fff"/>
<rect x="656" y="226" width="3" height="1" fill="#fff"/>
<rect x="656" y="229" width="3" height="1" fill="#fff"/>
<rect x="656" y="232" width="3" height="1" fill="#fff"/>
<rect x="656" y="242" width="3" height="1" fill="#fff"/>
<rect x="656" y="245" width="3" height="1" fill="#fff"/>
<rect x="656" y="248" width="3" height="1" fill="#fff"/>
<rect x="656" y="259" width="3" height="1" fill="#fff"/>
<rect x="656" y="262" width="3" height="1" fill="#fff"/>
<rect x="656" y="265" width="3" height="1" fill="#fff"/>
<rect x="626" y="327" width="61" height="61" fill="#000"/>
<rect x="627" y="324" width="57" height="3" fill="#000"/>
<rect x="629" y="388" width="57" height="3" fill="#000"/>
<rect x="623" y="330" width="3" height="57" fill="#000"/>
<rect x="687" y="328" width="3" height="57" fill="#000"/>
<rect x="637" y="324" width="1" height="3" fill="#fff"/>
<rect x="640" y="324" width="1" height="3" fill="#fff"/>
<rect x="643" y="324" width="1" height="3" fill="#fff"/>
<rect x="654" y="324" width="1" height="3" fill="#fff"/>
<rect x="657" y="324" width="1" height="3" fill="#fff"/>
<rect x="660" y="324" width="1" height="3" fill="#fff"/>
<rect x="671" y="324" width="1" height="3" fill="#fff"/>
<rect x="674" y="324" width="1" height="3" fill="#fff"/>
<rect x="677" y="324" width="1" height="3" fill="#fff"/>
<rect x="630" y="388" width="1" height="3" fill="#fff"/>
<rect x="642" y="388" width="1" height="3" fill="#fff"/>
<rect x="645" y="388" width="1" height="3" fill="#fff"/>
<rect x="648" y="388" width="1" height="3" fill="#fff"/>
<rect x="659" y="388" width="1" height="3" fill="#fff"/>
<rect x="662" y="388" width="1" height="3" fill="#fff"/>
<rect x="665" y="388" width="1" height="3" fill="#fff"/>
<rect x="676" y="388" width="1" height="3" fill="#fff"/>
<rect x="679" y="388" width="1" height="3" fill="#fff"/>
<rect x="682" y="388" width="1" height="3" fill="#fff"/>
<rect x="623" y="336" width="3" height="1" fill="#fff"/>
<rect x="623" y="339" width="3" height="1" fill="#fff"/>
<rect x="623" y="342" width="3" height="1" fill="#fff"/>
<rect x="623" y="353" width="3" height="1" fill="#fff"/>
<rect x="623" y="356" width="3" height="1" fill="#fff"/>
<rect x="623" y="359" width="3" height="1" fill="#fff"/>
<rect x="623" y="370" width="3" height="1" fill="#fff"/>
<rect x="623" y="373" width="3" height="1" fill="#fff"/>
<rect x="623" y="376" width="3" height="1" fill="#fff"/>
<rect x="623" y="379" width="3" height="1" fill="#fff"/>
<rect x="687" y="342" width="3" height="1" fill="#fff"/>
<rect x="687" y="345" width="3" height="1" fill="#fff"/>
<rect x="687" y="348" width="3" height="1" fill="#fff"/>
<rect x="687" y="359" width="3" height="1" fill="#fff"/>
<rect x="687" y="362" width="3" height="1" fill="#fff"/>
<rect x="687" y="365" width="3" height="1" fill="#fff"/>
<rect x="687" y="378" width="3" height="1" fill="#fff"/>
<rect x="687" y="381" width="3" height="1" fill="#fff"/>
<rect x="687" y="384" width="3" height="1" fill="#fff"/>
<rect x="479" y="334" width="42" height="2" fill="#000"/>
<rect x="478" y="336" width="45" height="1" fill="#000"/>
<rect x="478" y="337" width="47" height="2" fill="#000"/>
<rect x="476" y="339" width="49" height="41" fill="#000"/>
<rect x="476" y="380" width="47" height="2" fill="#000"/>
<rect x="480" y="382" width="42" height="2" fill="#000"/>
<polygon points="350,57 458,57 458,164 359.5,164 350,154.5" fill="#000" />
<polygon points="358.5,148.5 362.5,148.5 365,151 365,155 362.5,157 358.5,157 356,154.5 356,151" fill="#fff" />
<rect x="389" y="103" width="28" height="14" fill="#fff"/>
<text transform="translate(403.80,115) scale(0.7,1)" x="0" y="0" font-size="14" text-anchor="middle" letter-spacing="3.292" fill="#000" filter="url(#crisp)" >CPU</text>
<rect x="374" y="26" width="61" height="12" fill="#000"/>
<rect x="381" y="28" width="1" height="9" fill="#fff"/>
<rect x="386" y="28" width="1" height="9" fill="#fff"/>
<rect x="392" y="28" width="1" height="9" fill="#fff"/>
<rect x="398" y="28" width="1" height="9" fill="#fff"/>
<rect x="404" y="28" width="1" height="9" fill="#fff"/>
<rect x="409" y="28" width="1" height="9" fill="#fff"/>
<rect x="415" y="28" width="1" height="9" fill="#fff"/>
<rect x="421" y="28" width="1" height="9" fill="#fff"/>
<rect x="427" y="28" width="1" height="9" fill="#fff"/>
<rect x="432" y="28" width="1" height="9" fill="#fff"/>
<polygon points="388.40,49.00 435.00,49.00 437.00,51.00 437.00,64.00 435.00,66.00 388.40,66.00 386.40,64.00 386.40,51.00" fill="#000" shape-rendering="crispEdges"/>
<polygon points="388.80,51.00 433.00,51.00 434.00,52.00 434.00,64.50 433.00,65.50 388.80,65.50 387.80,64.50 387.80,52.00" fill="#fff" shape-rendering="crispEdges"/>
<text transform="translate(411.01,62) scale(0.7,1)" x="0" y="0" font-size="14" text-anchor="middle" letter-spacing="2.877" fill="#000" filter="url(#crisp)" >JVIEW</text>
<polygon points="390.39,49.24 379.13,37.61 376.87,39.59 386.93,52.27" fill="#000" shape-rendering="crispEdges"/>
<polygon points="389.37,50.8 383.73,44.67 383.27,45.07 388.61,51.46" fill="#fff" shape-rendering="crispEdges"/>
<rect x="463" y="26" width="78" height="13" fill="#000"/>
<rect x="464" y="27" width="1" height="11" fill="#fff"/>
<rect x="469" y="27" width="1" height="11" fill="#fff"/>
<rect x="475" y="27" width="1" height="11" fill="#fff"/>
<rect x="481" y="27" width="1" height="11" fill="#fff"/>
<rect x="487" y="27" width="1" height="11" fill="#fff"/>
<rect x="493" y="27" width="1" height="11" fill="#fff"/>
<rect x="499" y="27" width="1" height="11" fill="#fff"/>
<rect x="504" y="27" width="1" height="11" fill="#fff"/>
<rect x="510" y="27" width="1" height="11" fill="#fff"/>
<rect x="516" y="27" width="1" height="11" fill="#fff"/>
<rect x="522" y="27" width="1" height="11" fill="#fff"/>
<rect x="528" y="27" width="1" height="11" fill="#fff"/>
<rect x="534" y="27" width="1" height="11" fill="#fff"/>
<rect x="539" y="27" width="1" height="11" fill="#fff"/>
<rect x="464" y="32" width="76" height="1" fill="#fff"/>
<rect x="464" y="37" width="76" height="1" fill="#fff"/>
<polygon points="476.30,49.00 522.80,49.00 524.80,51.00 524.80,66.00 522.80,68.00 476.30,68.00 474.30,66.00 474.30,51.00" fill="#000" shape-rendering="crispEdges"/>
<polygon points="478.00,51.70 521.80,51.70 522.80,52.70 522.80,64.80 521.80,65.80 478.00,65.80 477.00,64.80 477.00,52.70" fill="#fff" shape-rendering="crispEdges"/>
<text transform="translate(501.17,63) scale(0.7,1)" x="0" y="0" font-size="14" text-anchor="middle" letter-spacing="3.351" fill="#000" filter="url(#crisp)" >JFEAT</text>
<polygon points="478.42,50.36 467.68,38.07 465.32,39.93 474.82,53.21" fill="#000" shape-rendering="crispEdges"/>
<polygon points="477.32,51.87 471.96,45.41 471.49,45.79 476.54,52.49" fill="#fff" shape-rendering="crispEdges"/>
<rect x="519" y="73" width="14" height="28" fill="#000"/>
<rect x="519" y="87" width="14" height="1" fill="#fff"/>
<rect x="520" y="74" width="1" height="5" fill="#fff"/>
<rect x="520" y="81" width="1" height="5" fill="#fff"/>
<rect x="520" y="89" width="1" height="5" fill="#fff"/>
<rect x="520" y="96" width="1" height="4" fill="#fff"/>
<rect x="526" y="74" width="1" height="5" fill="#fff"/>
<rect x="526" y="81" width="1" height="5" fill="#fff"/>
<rect x="526" y="89" width="1" height="5" fill="#fff"/>
<rect x="526" y="96" width="1" height="4" fill="#fff"/>
<rect x="531" y="74" width="1" height="5" fill="#fff"/>
<rect x="531" y="81" width="1" height="5" fill="#fff"/>
<rect x="531" y="89" width="1" height="5" fill="#fff"/>
<rect x="531" y="96" width="1" height="4" fill="#fff"/>
<rect x="520" y="78" width="12" height="1" fill="#fff"/>
<rect x="520" y="81" width="12" height="1" fill="#fff"/>
<rect x="520" y="93" width="12" height="1" fill="#fff"/>
<polygon points="535.20,46.10 565.50,46.10 567.50,48.10 567.50,62.60 565.50,64.60 535.20,64.60 533.20,62.60 533.20,48.10" fill="#000" shape-rendering="crispEdges"/>
<polygon points="536.20,49.10 564.30,49.10 565.30,50.10 565.30,61.00 564.30,62.00 536.20,62.00 535.20,61.00 535.20,50.10" fill="#fff" shape-rendering="crispEdges"/>
<text transform="translate(550.95,60) scale(0.7,1)" x="0" y="0" font-size="14" text-anchor="middle" letter-spacing="2.581" fill="#000" filter="url(#crisp)" >JP1</text>
<polygon points="533.88,59.75 525.85,70.53 528.15,72.47 537.4,62.72" fill="#000" shape-rendering="crispEdges"/>
<polygon points="535.58,60.53 531.17,66.08 531.63,66.47 536.35,61.17" fill="#fff" shape-rendering="crispEdges"/>
<polygon points="470.10,75.10 501.90,75.10 503.90,77.10 503.90,91.50 501.90,93.50 470.10,93.50 468.10,91.50 468.10,77.10" fill="#000" shape-rendering="crispEdges"/>
<polygon points="472.10,77.10 500.60,77.10 501.60,78.10 501.60,89.70 500.60,90.70 472.10,90.70 471.10,89.70 471.10,78.10" fill="#fff" shape-rendering="crispEdges"/>
<text transform="translate(486.85,88) scale(0.7,1)" x="0" y="0" font-size="14" text-anchor="middle" letter-spacing="3.438" fill="#000" filter="url(#crisp)" >JP2</text>
<polygon points="502.59,86.73 519.03,84.5 518.97,82.5 502.41,81.33" fill="#000" shape-rendering="crispEdges"/>
<polygon points="502.06,85.95 512.02,83.72 501.94,82.15" fill="#fff" shape-rendering="crispEdges"/>
<polygon points="479.30,97.10 509.30,97.10 511.30,99.10 511.30,112.80 509.30,114.80 479.30,114.80 477.30,112.80 477.30,99.10" fill="#000" shape-rendering="crispEdges"/>
<polygon points="480.80,99.10 508.30,99.10 509.30,100.10 509.30,111.30 508.30,112.30 480.80,112.30 479.80,111.30 479.80,100.10" fill="#fff" shape-rendering="crispEdges"/>
<text transform="translate(494.75,110) scale(0.7,1)" x="0" y="0" font-size="14" text-anchor="middle" letter-spacing="3.438" fill="#000" filter="url(#crisp)" >JP3</text>
<polygon points="509.86,100.36 519.53,90.09 517.47,87.91 506.69,97.02" fill="#000" shape-rendering="crispEdges"/>
<polygon points="508.25,99.39 513.48,94.17 513.07,93.73 507.57,98.67" fill="#fff" shape-rendering="crispEdges"/>
<polygon points="511.20,118.70 541.10,118.70 543.10,120.70 543.10,134.50 541.10,136.50 511.20,136.50 509.20,134.50 509.20,120.70" fill="#000" shape-rendering="crispEdges"/>
<polygon points="512.70,121.00 539.80,121.00 540.80,122.00 540.80,133.20 539.80,134.20 512.70,134.20 511.70,133.20 511.70,122.00" fill="#fff" shape-rendering="crispEdges"/>
<text transform="translate(525.98,132) scale(0.7,1)" x="0" y="0" font-size="14" text-anchor="middle" letter-spacing="2.509" fill="#000" filter="url(#crisp)" >JP4</text>
<polygon points="530.1,120.0 527.6,102.0 525.6,102.0 523.1,120.0" fill="#000" shape-rendering="crispEdges"/>
<polygon points="528.5,120.5 526.6,109.65 524.7,120.5" fill="#fff" shape-rendering="crispEdges"/>
<rect x="553" y="67" width="13" height="61" fill="#000"/>
<rect x="564" y="68" width="1" height="59" fill="#fff"/>
<rect x="553" y="68" width="12" height="1" fill="#fff"/>
<rect x="553" y="126" width="12" height="1" fill="#fff"/>
<rect x="553" y="74" width="11" height="1" fill="#fff"/>
<rect x="553" y="80" width="11" height="1" fill="#fff"/>
<rect x="553" y="86" width="11" height="1" fill="#fff"/>
<rect x="553" y="91" width="11" height="1" fill="#fff"/>
<rect x="553" y="97" width="11" height="1" fill="#fff"/>
<rect x="553" y="103" width="11" height="1" fill="#fff"/>
<rect x="553" y="109" width="11" height="1" fill="#fff"/>
<rect x="553" y="114" width="11" height="1" fill="#fff"/>
<rect x="553" y="120" width="11" height="1" fill="#fff"/>
<rect x="560" y="122" width="3" height="3" fill="#fff"/>
<text transform="translate(545.54,75) scale(0.8,1)" x="0" y="0" font-size="12.5" text-anchor="middle" letter-spacing="1.221" fill="#000" filter="url(#crisp)" >20</text>
<text transform="translate(571.44,75) scale(0.8,1)" x="0" y="0" font-size="12.5" text-anchor="middle" letter-spacing="-0.779" fill="#000" filter="url(#crisp)" >19</text>
<text transform="translate(548.50,128) scale(0.85,1)" x="0" y="0" font-size="12.5" text-anchor="middle" letter-spacing="0.000" fill="#000" filter="url(#crisp)" >2</text>
<polygon points="574.30,98.10 604.80,98.10 606.80,100.10 606.80,114.40 604.80,116.40 574.30,116.40 572.30,114.40 572.30,100.10" fill="#000" shape-rendering="crispEdges"/>
<polygon points="576.00,100.50 603.60,100.50 604.60,101.50 604.60,113.00 603.60,114.00 576.00,114.00 575.00,113.00 575.00,101.50" fill="#fff" shape-rendering="crispEdges"/>
<text transform="translate(588.70,112) scale(0.7,1)" x="0" y="0" font-size="14" text-anchor="middle" letter-spacing="3.295" fill="#000" filter="url(#crisp)" >JP5</text>
<polygon points="574.15,112.64 564.97,122.41 567.03,124.59 577.31,115.99" fill="#000" shape-rendering="crispEdges"/>
<polygon points="575.75,113.61 570.74,118.61 571.16,119.04 576.43,114.33" fill="#fff" shape-rendering="crispEdges"/>
<rect x="612" y="12" width="22" height="1" fill="#000"/>
<rect x="641" y="12" width="25" height="1" fill="#000"/>
<rect x="673" y="12" width="8" height="1" fill="#000"/>
<rect x="612" y="87" width="15" height="1" fill="#000"/>
<rect x="635" y="87" width="25" height="1" fill="#000"/>
<rect x="667" y="87" width="14" height="1" fill="#000"/>
<rect x="612" y="12" width="1" height="20" fill="#000"/>
<rect x="612" y="40" width="1" height="25" fill="#000"/>
<rect x="612" y="72" width="1" height="16" fill="#000"/>
<rect x="680" y="12" width="1" height="25" fill="#000"/>
<rect x="680" y="45" width="1" height="24" fill="#000"/>
<rect x="680" y="76" width="1" height="12" fill="#000"/>
<rect x="616" y="15" width="61" height="1" fill="#000"/>
<rect x="616" y="27" width="61" height="1" fill="#000"/>
<rect x="616" y="15" width="1" height="13" fill="#000"/>
<rect x="676" y="15" width="1" height="13" fill="#000"/>
<rect x="618" y="17" width="57" height="9" fill="#000"/>
<rect x="618" y="21" width="57" height="1" fill="#fff"/>
<rect x="622" y="17" width="1" height="9" fill="#fff"/>
<rect x="628" y="17" width="1" height="9" fill="#fff"/>
<rect x="634" y="17" width="1" height="9" fill="#fff"/>
<rect x="640" y="17" width="1" height="9" fill="#fff"/>
<rect x="646" y="17" width="1" height="9" fill="#fff"/>
<rect x="652" y="17" width="1" height="9" fill="#fff"/>
<rect x="657" y="17" width="1" height="9" fill="#fff"/>
<rect x="663" y="17" width="1" height="9" fill="#fff"/>
<rect x="669" y="17" width="1" height="9" fill="#fff"/>
<rect x="616" y="72" width="61" height="1" fill="#000"/>
<rect x="616" y="84" width="61" height="1" fill="#000"/>
<rect x="616" y="72" width="1" height="13" fill="#000"/>
<rect x="676" y="72" width="1" height="13" fill="#000"/>
<rect x="618" y="74" width="57" height="9" fill="#000"/>
<rect x="618" y="78" width="57" height="1" fill="#fff"/>
<rect x="622" y="74" width="1" height="9" fill="#fff"/>
<rect x="628" y="74" width="1" height="9" fill="#fff"/>
<rect x="634" y="74" width="1" height="9" fill="#fff"/>
<rect x="640" y="74" width="1" height="9" fill="#fff"/>
<rect x="646" y="74" width="1" height="9" fill="#fff"/>
<rect x="652" y="74" width="1" height="9" fill="#fff"/>
<rect x="657" y="74" width="1" height="9" fill="#fff"/>
<rect x="663" y="74" width="1" height="9" fill="#fff"/>
<rect x="669" y="74" width="1" height="9" fill="#fff"/>
<polygon points="629.00,40.90 664.00,40.90 667.00,43.90 667.00,56.00 664.00,59.00 629.00,59.00 626.00,56.00 626.00,43.90" fill="#000" shape-rendering="crispEdges"/>
<polygon points="629.80,42.90 663.10,42.90 664.10,43.90 664.10,55.70 663.10,56.70 629.80,56.70 628.80,55.70 628.80,43.90" fill="#fff" shape-rendering="crispEdges"/>
<text transform="translate(646.56,54) scale(0.7,1)" x="0" y="0" font-size="14" text-anchor="middle" letter-spacing="2.881" fill="#000" filter="url(#crisp)" >JVDB</text>
<rect x="691" y="64" width="7" height="13" fill="#000"/>
<rect x="692" y="70" width="5" height="1" fill="#fff"/>
<rect x="692" y="75" width="5" height="1" fill="#fff"/>
<polygon points="703.10,84.90 732.90,84.90 734.90,86.90 734.90,101.50 732.90,103.50 703.10,103.50 701.10,101.50 701.10,86.90" fill="#000" shape-rendering="crispEdges"/>
<polygon points="704.50,86.90 731.20,86.90 732.20,87.90 732.20,99.80 731.20,100.80 704.50,100.80 703.50,99.80 703.50,87.90" fill="#fff" shape-rendering="crispEdges"/>
<text transform="translate(717.93,98) scale(0.7,1)" x="0" y="0" font-size="14" text-anchor="middle" letter-spacing="3.088" fill="#000" filter="url(#crisp)" >GND</text>
<polygon points="704.83,85.57 695.75,77.73 693.65,79.87 701.6,88.84" fill="#000" shape-rendering="crispEdges"/>
<polygon points="703.92,87.2 699.2,82.82 698.78,83.25 703.22,87.91" fill="#fff" shape-rendering="crispEdges"/>
<rect x="829" y="6" width="1" height="436" fill="#000"/>
<rect x="823" y="20" width="7" height="68" fill="#000"/>
<rect x="795" y="31" width="35" height="45" fill="#000"/>
<rect x="830" y="32" width="14" height="1" fill="#000"/>
<rect x="830" y="74" width="14" height="1" fill="#000"/>
<rect x="845" y="34" width="1" height="39" fill="#000"/>
<rect x="844" y="33" width="1" height="1" fill="#000"/>
<rect x="844" y="73" width="1" height="1" fill="#000"/>
<rect x="821" y="24" width="18" height="6" fill="#fff"/>
<rect x="821" y="24" width="18" height="1" fill="#000"/>
<rect x="821" y="29" width="18" height="1" fill="#000"/>
<rect x="821" y="24" width="1" height="6" fill="#000"/>
<rect x="838" y="24" width="1" height="6" fill="#000"/>
<rect x="823" y="24" width="7" height="6" fill="#000"/>
<rect x="821" y="78" width="18" height="6" fill="#fff"/>
<rect x="821" y="78" width="18" height="1" fill="#000"/>
<rect x="821" y="83" width="18" height="1" fill="#000"/>
<rect x="821" y="78" width="1" height="6" fill="#000"/>
<rect x="838" y="78" width="1" height="6" fill="#000"/>
<rect x="823" y="78" width="7" height="6" fill="#000"/>
<rect x="823" y="88" width="7" height="1" fill="#fff"/>
<polygon points="738.20,42.00 775.90,42.00 777.90,44.00 777.90,58.80 775.90,60.80 738.20,60.80 736.20,58.80 736.20,44.00" fill="#000" shape-rendering="crispEdges"/>
<polygon points="740.10,44.00 775.30,44.00 776.30,45.00 776.30,57.10 775.30,58.10 740.10,58.10 739.10,57.10 739.10,45.00" fill="#fff" shape-rendering="crispEdges"/>
<text transform="translate(758.90,55) scale(0.7,1)" x="0" y="0" font-size="14" text-anchor="middle" letter-spacing="3.859" fill="#000" filter="url(#crisp)" >JVGA</text>
<polygon points="776.59,55.02 793.03,52.1 792.97,50.1 776.41,48.03" fill="#000" shape-rendering="crispEdges"/>
<polygon points="776.05,53.44 786.02,51.28 775.95,49.64" fill="#fff" shape-rendering="crispEdges"/>
<rect x="829" y="89" width="1" height="112" fill="#fff"/>
<rect x="799" y="100" width="28" height="91" fill="#000"/>
<rect x="823" y="89" width="4" height="12" fill="#000"/>
<rect x="823" y="190" width="4" height="11" fill="#000"/>
<rect x="827" y="89" width="1" height="112" fill="#fff"/>
<rect x="828" y="89" width="2" height="12" fill="#000"/>
<rect x="828" y="189" width="2" height="12" fill="#000"/>
<rect x="829" y="100" width="12" height="1" fill="#000"/>
<rect x="829" y="189" width="12" height="1" fill="#000"/>
<rect x="842" y="102" width="1" height="86" fill="#000"/>
<rect x="841" y="101" width="1" height="1" fill="#000"/>
<rect x="841" y="188" width="1" height="1" fill="#000"/>
<rect x="818" y="91" width="19" height="6" fill="#fff"/>
<rect x="818" y="91" width="19" height="1" fill="#000"/>
<rect x="818" y="96" width="19" height="1" fill="#000"/>
<rect x="818" y="91" width="1" height="6" fill="#000"/>
<rect x="836" y="91" width="1" height="6" fill="#000"/>
<rect x="823" y="91" width="4" height="6" fill="#000"/>
<rect x="828" y="91" width="2" height="6" fill="#000"/>
<rect x="818" y="193" width="19" height="7" fill="#fff"/>
<rect x="818" y="193" width="19" height="1" fill="#000"/>
<rect x="818" y="199" width="19" height="1" fill="#000"/>
<rect x="818" y="193" width="1" height="7" fill="#000"/>
<rect x="836" y="193" width="1" height="7" fill="#000"/>
<rect x="823" y="193" width="4" height="7" fill="#000"/>
<rect x="828" y="193" width="2" height="7" fill="#000"/>
<rect x="823" y="201" width="7" height="1" fill="#fff"/>
<polygon points="735.00,134.00 780.10,134.00 782.10,136.00 782.10,150.70 780.10,152.70 735.00,152.70 733.00,150.70 733.00,136.00" fill="#000" shape-rendering="crispEdges"/>
<polygon points="736.10,135.90 779.00,135.90 780.00,136.90 780.00,149.40 779.00,150.40 736.10,150.40 735.10,149.40 735.10,136.90" fill="#fff" shape-rendering="crispEdges"/>
<text transform="translate(756.42,147) scale(0.7,1)" x="0" y="0" font-size="14" text-anchor="middle" letter-spacing="2.492" fill="#000" filter="url(#crisp)" >JLPT1</text>
<polygon points="781.0,147.7 797.0,144.5 797.0,142.5 781.0,139.3" fill="#000" shape-rendering="crispEdges"/>
<polygon points="780.5,145.4 790.25,143.5 780.5,141.6" fill="#fff" shape-rendering="crispEdges"/>
<rect x="823" y="202" width="7" height="135" fill="#000"/>
<rect x="795" y="213" width="35" height="45" fill="#000"/>
<rect x="830" y="213" width="14" height="1" fill="#000"/>
<rect x="830" y="256" width="14" height="1" fill="#000"/>
<rect x="845" y="215" width="1" height="40" fill="#000"/>
<rect x="844" y="214" width="1" height="1" fill="#000"/>
<rect x="844" y="255" width="1" height="1" fill="#000"/>
<rect x="821" y="205" width="18" height="6" fill="#fff"/>
<rect x="821" y="205" width="18" height="1" fill="#000"/>
<rect x="821" y="210" width="18" height="1" fill="#000"/>
<rect x="821" y="205" width="1" height="6" fill="#000"/>
<rect x="838" y="205" width="1" height="6" fill="#000"/>
<rect x="823" y="205" width="7" height="6" fill="#000"/>
<rect x="821" y="259" width="18" height="6" fill="#fff"/>
<rect x="821" y="259" width="18" height="1" fill="#000"/>
<rect x="821" y="264" width="18" height="1" fill="#000"/>
<rect x="821" y="259" width="1" height="6" fill="#000"/>
<rect x="838" y="259" width="1" height="6" fill="#000"/>
<rect x="823" y="259" width="7" height="6" fill="#000"/>
<polygon points="728.30,226.00 777.00,226.00 779.00,228.00 779.00,242.90 777.00,244.90 728.30,244.90 726.30,242.90 726.30,228.00" fill="#000" shape-rendering="crispEdges"/>
<polygon points="729.30,227.70 775.70,227.70 776.70,228.70 776.70,241.20 775.70,242.20 729.30,242.20 728.30,241.20 728.30,228.70" fill="#fff" shape-rendering="crispEdges"/>
<text transform="translate(752.16,239) scale(0.7,1)" x="0" y="0" font-size="14" text-anchor="middle" letter-spacing="3.174" fill="#000" filter="url(#crisp)" >JCOM2</text>
<polygon points="778.03,238.91 794.41,235.9 794.39,233.9 777.97,231.11" fill="#000" shape-rendering="crispEdges"/>
<polygon points="777.51,236.91 787.47,234.94 777.49,233.11" fill="#fff" shape-rendering="crispEdges"/>
<rect x="795" y="281" width="35" height="44" fill="#000"/>
<rect x="830" y="281" width="14" height="1" fill="#000"/>
<rect x="830" y="323" width="14" height="1" fill="#000"/>
<rect x="845" y="283" width="1" height="39" fill="#000"/>
<rect x="844" y="282" width="1" height="1" fill="#000"/>
<rect x="844" y="322" width="1" height="1" fill="#000"/>
<rect x="821" y="273" width="18" height="6" fill="#fff"/>
<rect x="821" y="273" width="18" height="1" fill="#000"/>
<rect x="821" y="278" width="18" height="1" fill="#000"/>
<rect x="821" y="273" width="1" height="6" fill="#000"/>
<rect x="838" y="273" width="1" height="6" fill="#000"/>
<rect x="823" y="273" width="7" height="6" fill="#000"/>
<rect x="821" y="327" width="18" height="6" fill="#fff"/>
<rect x="821" y="327" width="18" height="1" fill="#000"/>
<rect x="821" y="332" width="18" height="1" fill="#000"/>
<rect x="821" y="327" width="1" height="6" fill="#000"/>
<rect x="838" y="327" width="1" height="6" fill="#000"/>
<rect x="823" y="327" width="7" height="6" fill="#000"/>
<polygon points="737.20,315.00 782.80,315.00 784.80,317.00 784.80,331.80 782.80,333.80 737.20,333.80 735.20,331.80 735.20,317.00" fill="#000" shape-rendering="crispEdges"/>
<polygon points="738.30,317.40 781.80,317.40 782.80,318.40 782.80,329.80 781.80,330.80 738.30,330.80 737.30,329.80 737.30,318.40" fill="#fff" shape-rendering="crispEdges"/>
<text transform="translate(760.85,329) scale(0.7,1)" x="0" y="0" font-size="14" text-anchor="middle" letter-spacing="2.995" fill="#000" filter="url(#crisp)" >JCOM1</text>
<polygon points="782.91,318.34 794.66,305.57 792.54,303.43 779.67,315.07" fill="#000" shape-rendering="crispEdges"/>
<polygon points="781.29,317.41 787.43,311.04 787.01,310.61 780.58,316.7" fill="#fff" shape-rendering="crispEdges"/>
<rect x="827" y="337" width="3" height="2" fill="#000"/>
<rect x="825" y="339" width="5" height="2" fill="#000"/>
<rect x="822" y="341" width="8" height="5" fill="#000"/>
<rect x="798" y="346" width="32" height="37" fill="#000"/>
<rect x="822" y="383" width="8" height="5" fill="#000"/>
<rect x="825" y="388" width="5" height="2" fill="#000"/>
<rect x="796" y="352" width="3" height="25" fill="#fff"/>
<rect x="796" y="352" width="3" height="1" fill="#000"/>
<rect x="796" y="376" width="3" height="1" fill="#000"/>
<rect x="796" y="352" width="1" height="25" fill="#000"/>
<rect x="798" y="352" width="1" height="25" fill="#000"/>
<rect x="792" y="355" width="5" height="8" fill="#fff"/>
<rect x="792" y="355" width="5" height="1" fill="#000"/>
<rect x="792" y="362" width="5" height="1" fill="#000"/>
<rect x="792" y="355" width="1" height="8" fill="#000"/>
<rect x="796" y="355" width="1" height="8" fill="#000"/>
<rect x="792" y="366" width="5" height="10" fill="#fff"/>
<rect x="792" y="366" width="5" height="1" fill="#000"/>
<rect x="792" y="375" width="5" height="1" fill="#000"/>
<rect x="792" y="366" width="1" height="10" fill="#000"/>
<rect x="796" y="366" width="1" height="10" fill="#000"/>
<polygon points="724.20,251.20 754.70,251.20 756.70,253.20 756.70,267.00 754.70,269.00 724.20,269.00 722.20,267.00 722.20,253.20" fill="#000" shape-rendering="crispEdges"/>
<polygon points="725.70,253.10 753.70,253.10 754.70,254.10 754.70,265.70 753.70,266.70 725.70,266.70 724.70,265.70 724.70,254.10" fill="#fff" shape-rendering="crispEdges"/>
<text transform="translate(740.43,264) scale(0.7,1)" x="0" y="0" font-size="14" text-anchor="middle" letter-spacing="2.802" fill="#000" filter="url(#crisp)" >GND</text>
<rect x="756" y="276" width="14" height="7" fill="#000"/>
<rect x="757" y="277" width="1" height="5" fill="#fff"/>
<rect x="763" y="277" width="1" height="5" fill="#fff"/>
<rect x="768" y="277" width="1" height="5" fill="#fff"/>
<polygon points="751.39,268.59 761.57,277.09 763.63,274.91 754.55,265.24" fill="#000" shape-rendering="crispEdges"/>
<polygon points="752.27,266.93 757.5,271.6 757.91,271.16 752.95,266.21" fill="#fff" shape-rendering="crispEdges"/>
<polygon points="739.10,344.00 777.70,344.00 779.70,346.00 779.70,361.20 777.70,363.20 739.10,363.20 737.10,361.20 737.10,346.00" fill="#000" shape-rendering="crispEdges"/>
<polygon points="740.40,346.40 776.40,346.40 777.40,347.40 777.40,360.20 776.40,361.20 740.40,361.20 739.40,360.20 739.40,347.40" fill="#fff" shape-rendering="crispEdges"/>
<text transform="translate(758.96,358) scale(0.7,1)" x="0" y="0" font-size="14" text-anchor="middle" letter-spacing="3.318" fill="#000" filter="url(#crisp)" >JBAT</text>
<polygon points="756.5,362 761.5,362 761,367 757,367" fill="#000" />
<polygon points="757.8,360 760.2,360 759,366" fill="#fff" shape-rendering="geometricPrecision"/>
<rect x="757" y="366" width="4" height="9" fill="#000"/>
<rect x="758" y="375" width="2" height="5" fill="#000"/>
<rect x="757" y="380" width="4" height="16" fill="#000"/>
<rect x="758" y="381" width="2" height="1" fill="#fff"/>
<rect x="758" y="388" width="2" height="4" fill="#fff"/>
<rect x="790" y="391" width="34" height="1" fill="#000"/>
<rect x="790" y="431" width="34" height="1" fill="#000"/>
<rect x="790" y="391" width="1" height="41" fill="#000"/>
<rect x="823" y="391" width="1" height="41" fill="#000"/>
<rect x="823" y="389" width="6" height="43" fill="#000"/>
<rect x="790" y="431" width="39" height="1" fill="#000"/>
<polygon points="714.10,403.10 771.80,403.10 773.80,405.10 773.80,418.80 771.80,420.80 714.10,420.80 712.10,418.80 712.10,405.10" fill="#000" shape-rendering="crispEdges"/>
<polygon points="715.40,404.90 770.20,404.90 771.20,405.90 771.20,417.20 770.20,418.20 715.40,418.20 714.40,417.20 714.40,405.90" fill="#fff" shape-rendering="crispEdges"/>
<text transform="translate(743.34,416) scale(0.7,1)" x="0" y="0" font-size="14" text-anchor="middle" letter-spacing="3.390" fill="#000" filter="url(#crisp)" >JMOUSE</text>
<polygon points="773.0,416.6 788.5,412.6 788.5,410.6 773.0,406.6" fill="#000" shape-rendering="crispEdges"/>
<polygon points="772.5,413.5 781.98,411.6 772.5,409.7" fill="#fff" shape-rendering="crispEdges"/>
<rect x="408" y="281" width="128" height="20" fill="#000"/>
<rect x="416" y="288" width="114" height="6" fill="#fff"/>
<text transform="translate(475.81,274) scale(0.7,1)" x="0" y="0" font-size="12.5" text-anchor="middle" letter-spacing="2.608" fill="#000" filter="url(#crisp)" >MH0940</text>
<rect x="546" y="281" width="203" height="20" fill="#000"/>
<rect x="554" y="288" width="187" height="6" fill="#fff"/>
<polygon points="559.10,318.80 599.00,318.80 601.00,320.80 601.00,335.80 599.00,337.80 559.10,337.80 557.10,335.80 557.10,320.80" fill="#000" shape-rendering="crispEdges"/>
<polygon points="561.10,321.50 597.20,321.50 598.20,322.50 598.20,333.80 597.20,334.80 561.10,334.80 560.10,333.80 560.10,322.50" fill="#fff" shape-rendering="crispEdges"/>
<text transform="translate(578.62,332) scale(0.7,1)" x="0" y="0" font-size="14" text-anchor="middle" letter-spacing="1.638" fill="#000" filter="url(#crisp)" >EXP1</text>
<polygon points="582.0,320.0 579.5,302.0 577.5,302.0 575.0,320.0" fill="#000" shape-rendering="crispEdges"/>
<polygon points="580.4,320.5 578.5,309.65 576.6,320.5" fill="#fff" shape-rendering="crispEdges"/>
<rect x="410" y="314" width="13" height="119" fill="#000"/>
<rect x="411" y="315" width="1" height="117" fill="#fff"/>
<rect x="411" y="315" width="12" height="1" fill="#fff"/>
<rect x="411" y="431" width="11" height="1" fill="#fff"/>
<rect x="416" y="316" width="1" height="115" fill="#fff"/>
<rect x="412" y="320" width="11" height="1" fill="#fff"/>
<rect x="412" y="326" width="11" height="1" fill="#fff"/>
<rect x="412" y="332" width="11" height="1" fill="#fff"/>
<rect x="412" y="338" width="11" height="1" fill="#fff"/>
<rect x="412" y="344" width="11" height="1" fill="#fff"/>
<rect x="412" y="350" width="11" height="1" fill="#fff"/>
<rect x="412" y="356" width="11" height="1" fill="#fff"/>
<rect x="412" y="361" width="11" height="1" fill="#fff"/>
<rect x="412" y="367" width="11" height="1" fill="#fff"/>
<rect x="412" y="373" width="11" height="1" fill="#fff"/>
<rect x="412" y="379" width="11" height="1" fill="#fff"/>
<rect x="412" y="385" width="11" height="1" fill="#fff"/>
<rect x="412" y="391" width="11" height="1" fill="#fff"/>
<rect x="412" y="397" width="11" height="1" fill="#fff"/>
<rect x="412" y="403" width="11" height="1" fill="#fff"/>
<rect x="412" y="409" width="11" height="1" fill="#fff"/>
<rect x="412" y="415" width="11" height="1" fill="#fff"/>
<rect x="412" y="421" width="11" height="1" fill="#fff"/>
<rect x="412" y="427" width="11" height="1" fill="#fff"/>
<rect x="412" y="316" width="5" height="1" fill="#fff"/>
<rect x="412" y="320" width="5" height="1" fill="#fff"/>
<rect x="412" y="316" width="1" height="5" fill="#fff"/>
<rect x="416" y="316" width="1" height="5" fill="#fff"/>
<rect x="445" y="332" width="12" height="101" fill="#000"/>
<rect x="450" y="333" width="1" height="99" fill="#fff"/>
<rect x="446" y="338" width="10" height="1" fill="#fff"/>
<rect x="446" y="344" width="10" height="1" fill="#fff"/>
<rect x="446" y="350" width="10" height="1" fill="#fff"/>
<rect x="446" y="356" width="10" height="1" fill="#fff"/>
<rect x="446" y="362" width="10" height="1" fill="#fff"/>
<rect x="446" y="367" width="10" height="1" fill="#fff"/>
<rect x="446" y="373" width="10" height="1" fill="#fff"/>
<rect x="446" y="379" width="10" height="1" fill="#fff"/>
<rect x="446" y="385" width="10" height="1" fill="#fff"/>
<rect x="446" y="391" width="10" height="1" fill="#fff"/>
<rect x="446" y="397" width="10" height="1" fill="#fff"/>
<rect x="446" y="403" width="10" height="1" fill="#fff"/>
<rect x="446" y="409" width="10" height="1" fill="#fff"/>
<rect x="446" y="415" width="10" height="1" fill="#fff"/>
<rect x="446" y="421" width="10" height="1" fill="#fff"/>
<rect x="446" y="426" width="10" height="1" fill="#fff"/>
<rect x="447" y="334" width="2" height="2" fill="#fff"/>
<polygon points="352.90,363.90 391.20,363.90 393.20,365.90 393.20,380.70 391.20,382.70 352.90,382.70 350.90,380.70 350.90,365.90" fill="#000" shape-rendering="crispEdges"/>
<polygon points="354.00,366.20 390.20,366.20 391.20,367.20 391.20,379.20 390.20,380.20 354.00,380.20 353.00,379.20 353.00,367.20" fill="#fff" shape-rendering="crispEdges"/>
<text transform="translate(372.66,378) scale(0.7,1)" x="0" y="0" font-size="14" text-anchor="middle" letter-spacing="3.030" fill="#000" filter="url(#crisp)" >JIDE</text>
<polygon points="391.95,377.49 407.99,374.7 408.01,372.7 392.05,369.49" fill="#000" shape-rendering="crispEdges"/>
<polygon points="391.47,375.38 401.25,373.61 391.53,371.58" fill="#fff" shape-rendering="crispEdges"/>
<polygon points="475.10,373.70 520.20,373.70 522.20,375.70 522.20,389.80 520.20,391.80 475.10,391.80 473.10,389.80 473.10,375.70" fill="#000" shape-rendering="crispEdges"/>
<polygon points="476.40,375.90 519.20,375.90 520.20,376.90 520.20,388.30 519.20,389.30 476.40,389.30 475.40,388.30 475.40,376.90" fill="#fff" shape-rendering="crispEdges"/>
<text transform="translate(497.93,387) scale(0.7,1)" x="0" y="0" font-size="14" text-anchor="middle" letter-spacing="3.073" fill="#000" filter="url(#crisp)" >JFLOP</text>
<polygon points="474.46,379.49 458.29,381.8 458.31,383.8 474.54,385.69" fill="#000" shape-rendering="crispEdges"/>
<polygon points="474.97,380.68 465.14,382.71 475.02,384.48" fill="#fff" shape-rendering="crispEdges"/>
<rect x="340" y="264" width="7" height="26" fill="#000"/>
<rect x="341" y="265" width="1" height="24" fill="#fff"/>
<rect x="341" y="265" width="5" height="1" fill="#fff"/>
<rect x="341" y="271" width="5" height="1" fill="#fff"/>
<rect x="341" y="277" width="5" height="1" fill="#fff"/>
<rect x="341" y="283" width="5" height="1" fill="#fff"/>
<rect x="341" y="288" width="5" height="1" fill="#fff"/>
<polygon points="298.00,298.90 336.10,298.90 338.10,300.90 338.10,315.80 336.10,317.80 298.00,317.80 296.00,315.80 296.00,300.90" fill="#000" shape-rendering="crispEdges"/>
<polygon points="299.10,300.80 334.30,300.80 335.30,301.80 335.30,314.70 334.30,315.70 299.10,315.70 298.10,314.70 298.10,301.80" fill="#fff" shape-rendering="crispEdges"/>
<text transform="translate(317.07,312) scale(0.7,1)" x="0" y="0" font-size="14" text-anchor="middle" letter-spacing="3.208" fill="#000" filter="url(#crisp)" >JLED</text>
<polygon points="337.35,301.36 346.03,292.09 343.97,289.91 334.2,298.01" fill="#000" shape-rendering="crispEdges"/>
<polygon points="335.75,300.39 340.53,295.62 340.12,295.18 335.07,299.66" fill="#fff" shape-rendering="crispEdges"/>
<rect x="144" y="318" width="14" height="7" fill="#fff"/>
<rect x="144" y="318" width="14" height="1" fill="#000"/>
<rect x="144" y="324" width="14" height="1" fill="#000"/>
<rect x="144" y="318" width="1" height="7" fill="#000"/>
<rect x="157" y="318" width="1" height="7" fill="#000"/>
<rect x="146" y="320" width="4" height="22" fill="#000"/>
<rect x="151" y="320" width="5" height="22" fill="#000"/>
<polygon points="176.10,320.90 207.80,320.90 209.80,322.90 209.80,336.70 207.80,338.70 176.10,338.70 174.10,336.70 174.10,322.90" fill="#000" shape-rendering="crispEdges"/>
<polygon points="177.00,322.80 206.30,322.80 207.30,323.80 207.30,335.40 206.30,336.40 177.00,336.40 176.00,335.40 176.00,323.80" fill="#fff" shape-rendering="crispEdges"/>
<text transform="translate(192.13,334) scale(0.7,1)" x="0" y="0" font-size="14" text-anchor="middle" letter-spacing="3.088" fill="#000" filter="url(#crisp)" >GND</text>
<polygon points="175.41,325.98 159.17,328.9 159.23,330.9 175.59,332.97" fill="#000" shape-rendering="crispEdges"/>
<polygon points="175.95,327.56 166.08,329.72 176.05,331.36" fill="#fff" shape-rendering="crispEdges"/>
<rect x="341" y="183" width="7" height="13" fill="#000"/>
<rect x="342" y="184" width="1" height="11" fill="#fff"/>
<rect x="342" y="189" width="5" height="1" fill="#fff"/>
<polygon points="357.00,197.00 387.80,197.00 389.80,199.00 389.80,213.80 387.80,215.80 357.00,215.80 355.00,213.80 355.00,199.00" fill="#000" shape-rendering="crispEdges"/>
<polygon points="358.20,198.80 386.30,198.80 387.30,199.80 387.30,212.00 386.30,213.00 358.20,213.00 357.20,212.00 357.20,199.80" fill="#fff" shape-rendering="crispEdges"/>
<text transform="translate(373.08,210) scale(0.7,1)" x="0" y="0" font-size="14" text-anchor="middle" letter-spacing="2.945" fill="#000" filter="url(#crisp)" >GND</text>
<polygon points="359.27,196.94 349.49,189.38 347.51,191.62 356.23,200.39" fill="#000" shape-rendering="crispEdges"/>
<polygon points="358.46,198.62 353.37,194.4 352.98,194.85 357.79,199.37" fill="#fff" shape-rendering="crispEdges"/>
<rect x="20" y="41" width="13" height="1" fill="#000"/>
<rect x="20" y="54" width="13" height="1" fill="#000"/>
<rect x="20" y="41" width="1" height="14" fill="#000"/>
<rect x="32" y="41" width="1" height="14" fill="#000"/>
<rect x="21" y="43" width="5" height="4" fill="#000"/>
<rect x="27" y="43" width="4" height="4" fill="#000"/>
<rect x="27" y="49" width="4" height="4" fill="#000"/>
<polygon points="37.00,11.00 94.00,11.00 96.00,13.00 96.00,28.00 94.00,30.00 37.00,30.00 35.00,28.00 35.00,13.00" fill="#000" shape-rendering="crispEdges"/>
<polygon points="39.00,12.50 92.50,12.50 93.50,13.50 93.50,26.30 92.50,27.30 39.00,27.30 38.00,26.30 38.00,13.50" fill="#fff" shape-rendering="crispEdges"/>
<text transform="translate(65.59,24) scale(0.7,1)" x="0" y="0" font-size="14" text-anchor="middle" letter-spacing="3.109" fill="#000" filter="url(#crisp)" >JHDLED</text>
<polygon points="35.92,25.74 25.87,38.52 28.13,40.48 39.39,28.75" fill="#000" shape-rendering="crispEdges"/>
<polygon points="37.61,26.54 32.27,32.98 32.73,33.37 38.36,27.2" fill="#fff" shape-rendering="crispEdges"/>
<rect x="26" y="119" width="7" height="19" fill="#000"/>
<rect x="27" y="120" width="5" height="1" fill="#fff"/>
<rect x="28" y="122" width="3" height="2" fill="#fff"/>
<rect x="27" y="126" width="5" height="1" fill="#fff"/>
<rect x="27" y="131" width="5" height="1" fill="#fff"/>
<polygon points="39.30,91.00 76.70,91.00 78.70,93.00 78.70,107.80 76.70,109.80 39.30,109.80 37.30,107.80 37.30,93.00" fill="#000" shape-rendering="crispEdges"/>
<polygon points="41.00,92.80 75.70,92.80 76.70,93.80 76.70,106.10 75.70,107.10 41.00,107.10 40.00,106.10 40.00,93.80" fill="#fff" shape-rendering="crispEdges"/>
<text transform="translate(59.01,104) scale(0.7,1)" x="0" y="0" font-size="14" text-anchor="middle" letter-spacing="3.734" fill="#000" filter="url(#crisp)" >JFAN</text>
<polygon points="38.0,105.7 29.3,116.18 31.5,118.22 41.36,108.84" fill="#000" shape-rendering="crispEdges"/>
<polygon points="39.66,106.56 34.91,111.94 35.35,112.34 40.39,107.25" fill="#fff" shape-rendering="crispEdges"/>
<rect x="26" y="172" width="7" height="14" fill="#000"/>
<rect x="27" y="173" width="5" height="1" fill="#fff"/>
<rect x="27" y="179" width="5" height="1" fill="#fff"/>
<rect x="27" y="184" width="5" height="1" fill="#fff"/>
<polygon points="38.20,195.10 75.90,195.10 77.90,197.10 77.90,210.70 75.90,212.70 38.20,212.70 36.20,210.70 36.20,197.10" fill="#000" shape-rendering="crispEdges"/>
<polygon points="39.70,196.90 75.30,196.90 76.30,197.90 76.30,209.60 75.30,210.60 39.70,210.60 38.70,209.60 38.70,197.90" fill="#fff" shape-rendering="crispEdges"/>
<text transform="translate(57.04,208) scale(0.7,1)" x="0" y="0" font-size="14" text-anchor="middle" letter-spacing="2.837" fill="#000" filter="url(#crisp)" >CLRB</text>
<polygon points="40.38,196.21 30.62,186.5 28.38,188.5 36.95,199.28" fill="#000" shape-rendering="crispEdges"/>
<polygon points="39.37,197.78 34.4,192.52 33.95,192.93 38.63,198.45" fill="#fff" shape-rendering="crispEdges"/>
<rect x="580" y="412" width="112" height="1" fill="#000"/>
<rect x="580" y="435" width="112" height="1" fill="#000"/>
<rect x="580" y="412" width="1" height="24" fill="#000"/>
<rect x="691" y="412" width="1" height="24" fill="#000"/>
<rect x="580" y="420" width="112" height="1" fill="#000"/>
<rect x="582" y="415" width="7" height="1" fill="#000"/>
<rect x="582" y="417" width="7" height="1" fill="#000"/>
<rect x="582" y="415" width="1" height="3" fill="#000"/>
<rect x="588" y="415" width="1" height="3" fill="#000"/>
<rect x="583" y="418" width="5" height="2" fill="#000"/>
<rect x="582" y="422" width="8" height="2" fill="#000"/>
<rect x="591" y="415" width="7" height="1" fill="#000"/>
<rect x="591" y="417" width="7" height="1" fill="#000"/>
<rect x="591" y="415" width="1" height="3" fill="#000"/>
<rect x="597" y="415" width="1" height="3" fill="#000"/>
<rect x="592" y="418" width="5" height="2" fill="#000"/>
<rect x="591" y="422" width="8" height="2" fill="#000"/>
<rect x="600" y="415" width="7" height="1" fill="#000"/>
<rect x="600" y="417" width="7" height="1" fill="#000"/>
<rect x="600" y="415" width="1" height="3" fill="#000"/>
<rect x="606" y="415" width="1" height="3" fill="#000"/>
<rect x="601" y="418" width="5" height="2" fill="#000"/>
<rect x="600" y="422" width="8" height="2" fill="#000"/>
<rect x="609" y="415" width="7" height="1" fill="#000"/>
<rect x="609" y="417" width="7" height="1" fill="#000"/>
<rect x="609" y="415" width="1" height="3" fill="#000"/>
<rect x="615" y="415" width="1" height="3" fill="#000"/>
<rect x="610" y="418" width="5" height="2" fill="#000"/>
<rect x="609" y="422" width="8" height="2" fill="#000"/>
<rect x="618" y="415" width="7" height="1" fill="#000"/>
<rect x="618" y="417" width="7" height="1" fill="#000"/>
<rect x="618" y="415" width="1" height="3" fill="#000"/>
<rect x="624" y="415" width="1" height="3" fill="#000"/>
<rect x="619" y="418" width="5" height="2" fill="#000"/>
<rect x="618" y="422" width="8" height="2" fill="#000"/>
<rect x="628" y="415" width="7" height="1" fill="#000"/>
<rect x="628" y="417" width="7" height="1" fill="#000"/>
<rect x="628" y="415" width="1" height="3" fill="#000"/>
<rect x="634" y="415" width="1" height="3" fill="#000"/>
<rect x="629" y="418" width="5" height="2" fill="#000"/>
<rect x="628" y="422" width="8" height="2" fill="#000"/>
<rect x="637" y="415" width="7" height="1" fill="#000"/>
<rect x="637" y="417" width="7" height="1" fill="#000"/>
<rect x="637" y="415" width="1" height="3" fill="#000"/>
<rect x="643" y="415" width="1" height="3" fill="#000"/>
<rect x="638" y="418" width="5" height="2" fill="#000"/>
<rect x="637" y="422" width="8" height="2" fill="#000"/>
<rect x="646" y="415" width="7" height="1" fill="#000"/>
<rect x="646" y="417" width="7" height="1" fill="#000"/>
<rect x="646" y="415" width="1" height="3" fill="#000"/>
<rect x="652" y="415" width="1" height="3" fill="#000"/>
<rect x="647" y="418" width="5" height="2" fill="#000"/>
<rect x="646" y="422" width="8" height="2" fill="#000"/>
<rect x="655" y="415" width="7" height="1" fill="#000"/>
<rect x="655" y="417" width="7" height="1" fill="#000"/>
<rect x="655" y="415" width="1" height="3" fill="#000"/>
<rect x="661" y="415" width="1" height="3" fill="#000"/>
<rect x="656" y="418" width="5" height="2" fill="#000"/>
<rect x="655" y="422" width="8" height="2" fill="#000"/>
<rect x="664" y="415" width="7" height="1" fill="#000"/>
<rect x="664" y="417" width="7" height="1" fill="#000"/>
<rect x="664" y="415" width="1" height="3" fill="#000"/>
<rect x="670" y="415" width="1" height="3" fill="#000"/>
<rect x="665" y="418" width="5" height="2" fill="#000"/>
<rect x="664" y="422" width="8" height="2" fill="#000"/>
<rect x="673" y="415" width="7" height="1" fill="#000"/>
<rect x="673" y="417" width="7" height="1" fill="#000"/>
<rect x="673" y="415" width="1" height="3" fill="#000"/>
<rect x="679" y="415" width="1" height="3" fill="#000"/>
<rect x="674" y="418" width="5" height="2" fill="#000"/>
<rect x="673" y="422" width="8" height="2" fill="#000"/>
<rect x="682" y="415" width="7" height="1" fill="#000"/>
<rect x="682" y="417" width="7" height="1" fill="#000"/>
<rect x="682" y="415" width="1" height="3" fill="#000"/>
<rect x="688" y="415" width="1" height="3" fill="#000"/>
<rect x="683" y="418" width="5" height="2" fill="#000"/>
<rect x="682" y="422" width="8" height="2" fill="#000"/>
<rect x="586" y="425" width="7" height="1" fill="#000"/>
<rect x="586" y="432" width="7" height="1" fill="#000"/>
<rect x="586" y="425" width="1" height="8" fill="#000"/>
<rect x="592" y="425" width="1" height="8" fill="#000"/>
<rect x="595" y="425" width="7" height="1" fill="#000"/>
<rect x="595" y="432" width="7" height="1" fill="#000"/>
<rect x="595" y="425" width="1" height="8" fill="#000"/>
<rect x="601" y="425" width="1" height="8" fill="#000"/>
<rect x="605" y="425" width="7" height="1" fill="#000"/>
<rect x="605" y="432" width="7" height="1" fill="#000"/>
<rect x="605" y="425" width="1" height="8" fill="#000"/>
<rect x="611" y="425" width="1" height="8" fill="#000"/>
<rect x="614" y="425" width="7" height="1" fill="#000"/>
<rect x="614" y="432" width="7" height="1" fill="#000"/>
<rect x="614" y="425" width="1" height="8" fill="#000"/>
<rect x="620" y="425" width="1" height="8" fill="#000"/>
<rect x="623" y="425" width="7" height="1" fill="#000"/>
<rect x="623" y="432" width="7" height="1" fill="#000"/>
<rect x="623" y="425" width="1" height="8" fill="#000"/>
<rect x="629" y="425" width="1" height="8" fill="#000"/>
<rect x="632" y="425" width="7" height="1" fill="#000"/>
<rect x="632" y="432" width="7" height="1" fill="#000"/>
<rect x="632" y="425" width="1" height="8" fill="#000"/>
<rect x="638" y="425" width="1" height="8" fill="#000"/>
<rect x="642" y="425" width="7" height="1" fill="#000"/>
<rect x="642" y="432" width="7" height="1" fill="#000"/>
<rect x="642" y="425" width="1" height="8" fill="#000"/>
<rect x="648" y="425" width="1" height="8" fill="#000"/>
<rect x="651" y="425" width="7" height="1" fill="#000"/>
<rect x="651" y="432" width="7" height="1" fill="#000"/>
<rect x="651" y="425" width="1" height="8" fill="#000"/>
<rect x="657" y="425" width="1" height="8" fill="#000"/>
<rect x="660" y="425" width="7" height="1" fill="#000"/>
<rect x="660" y="432" width="7" height="1" fill="#000"/>
<rect x="660" y="425" width="1" height="8" fill="#000"/>
<rect x="666" y="425" width="1" height="8" fill="#000"/>
<rect x="670" y="425" width="7" height="1" fill="#000"/>
<rect x="670" y="432" width="7" height="1" fill="#000"/>
<rect x="670" y="425" width="1" height="8" fill="#000"/>
<rect x="676" y="425" width="1" height="8" fill="#000"/>
<rect x="679" y="425" width="7" height="1" fill="#000"/>
<rect x="679" y="432" width="7" height="1" fill="#000"/>
<rect x="679" y="425" width="1" height="8" fill="#000"/>
<rect x="685" y="425" width="1" height="8" fill="#000"/>
<rect x="581" y="425" width="3" height="1" fill="#000"/>
<rect x="581" y="427" width="3" height="1" fill="#000"/>
<rect x="581" y="425" width="1" height="3" fill="#000"/>
<rect x="583" y="425" width="1" height="3" fill="#000"/>
<rect x="581" y="430" width="3" height="1" fill="#000"/>
<rect x="581" y="432" width="3" height="1" fill="#000"/>
<rect x="581" y="430" width="1" height="3" fill="#000"/>
<rect x="583" y="430" width="1" height="3" fill="#000"/>
<rect x="688" y="425" width="3" height="1" fill="#000"/>
<rect x="688" y="427" width="3" height="1" fill="#000"/>
<rect x="688" y="425" width="1" height="3" fill="#000"/>
<rect x="690" y="425" width="1" height="3" fill="#000"/>
<rect x="688" y="430" width="3" height="1" fill="#000"/>
<rect x="688" y="432" width="3" height="1" fill="#000"/>
<rect x="688" y="430" width="1" height="3" fill="#000"/>
<rect x="690" y="430" width="1" height="3" fill="#000"/>
</svg>
</body></html>
